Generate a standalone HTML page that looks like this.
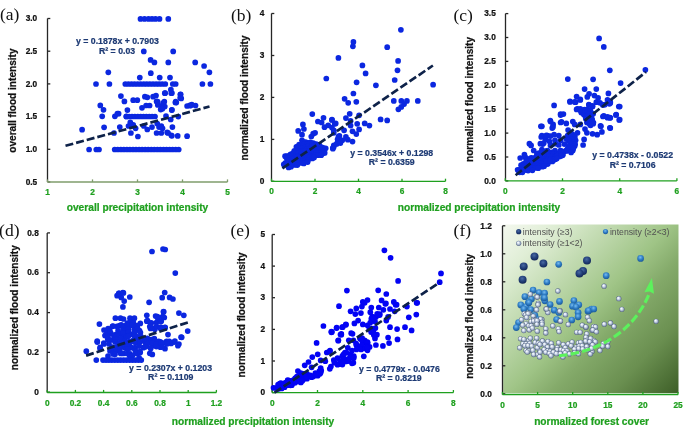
<!DOCTYPE html>
<html><head><meta charset="utf-8"><style>html,body{margin:0;padding:0;background:#fff;}svg{display:block;will-change:transform;filter:blur(0.3px);}</style></head>
<body><svg width="685" height="427" viewBox="0 0 685 427">
<rect width="685" height="427" fill="#fff"/>
<defs>
<linearGradient id="bg" gradientUnits="userSpaceOnUse" x1="503" y1="224.5" x2="678.5" y2="393.5">
<stop offset="0" stop-color="#f4f8ef"/><stop offset="0.15" stop-color="#e0eed6"/><stop offset="0.5" stop-color="#9fc486"/><stop offset="0.62" stop-color="#84aa6a"/><stop offset="0.8" stop-color="#6a8f50"/><stop offset="1" stop-color="#3d5e27"/>
</linearGradient>
<radialGradient id="gn" cx="0.45" cy="0.35" r="0.7"><stop offset="0" stop-color="#4a6aa2"/><stop offset="0.5" stop-color="#24417c"/><stop offset="1" stop-color="#0f2150"/></radialGradient>
<radialGradient id="gm" cx="0.45" cy="0.35" r="0.7"><stop offset="0" stop-color="#78bcf0"/><stop offset="0.5" stop-color="#2f7ec6"/><stop offset="1" stop-color="#185392"/></radialGradient>
<radialGradient id="gl" cx="0.5" cy="0.5" r="0.5" fx="0.36" fy="0.32"><stop offset="0" stop-color="#ffffff"/><stop offset="0.25" stop-color="#e9eff7"/><stop offset="0.6" stop-color="#b3c1d6"/><stop offset="0.85" stop-color="#7a8aa8"/><stop offset="1" stop-color="#56647f"/></radialGradient>
</defs>
<path d="M47.5 18.5V182" stroke="#262626" stroke-width="1.3" fill="none"/><path d="M47.5 18.5h2.8" stroke="#262626" stroke-width="1.3"/><path d="M47.5 51.2h2.8" stroke="#262626" stroke-width="1.3"/><path d="M47.5 83.9h2.8" stroke="#262626" stroke-width="1.3"/><path d="M47.5 116.6h2.8" stroke="#262626" stroke-width="1.3"/><path d="M47.5 149.3h2.8" stroke="#262626" stroke-width="1.3"/><path d="M47.5 182h2.8" stroke="#262626" stroke-width="1.3"/><path d="M47.5 182H227.5" stroke="#7f9c6b" stroke-width="1.3" fill="none"/><path d="M47.5 182v-2.6" stroke="#7f9c6b" stroke-width="1.3"/><path d="M92.5 182v-2.6" stroke="#7f9c6b" stroke-width="1.3"/><path d="M137.5 182v-2.6" stroke="#7f9c6b" stroke-width="1.3"/><path d="M182.5 182v-2.6" stroke="#7f9c6b" stroke-width="1.3"/><path d="M227.5 182v-2.6" stroke="#7f9c6b" stroke-width="1.3"/><text x="37.2" y="21.2" text-anchor="end" font-weight="bold" font-size="8.3" fill="#111" font-family="Liberation Sans, sans-serif" stroke="#111" stroke-width="0.22">3.0</text><text x="37.2" y="53.9" text-anchor="end" font-weight="bold" font-size="8.3" fill="#111" font-family="Liberation Sans, sans-serif" stroke="#111" stroke-width="0.22">2.5</text><text x="37.2" y="86.6" text-anchor="end" font-weight="bold" font-size="8.3" fill="#111" font-family="Liberation Sans, sans-serif" stroke="#111" stroke-width="0.22">2.0</text><text x="37.2" y="119.3" text-anchor="end" font-weight="bold" font-size="8.3" fill="#111" font-family="Liberation Sans, sans-serif" stroke="#111" stroke-width="0.22">1.5</text><text x="37.2" y="152" text-anchor="end" font-weight="bold" font-size="8.3" fill="#111" font-family="Liberation Sans, sans-serif" stroke="#111" stroke-width="0.22">1.0</text><text x="37.2" y="184.7" text-anchor="end" font-weight="bold" font-size="8.3" fill="#111" font-family="Liberation Sans, sans-serif" stroke="#111" stroke-width="0.22">0.5</text><text x="47.5" y="195.1" text-anchor="middle" font-weight="bold" font-size="8.3" fill="#1fa01f" font-family="Liberation Sans, sans-serif" stroke="#1fa01f" stroke-width="0.22">1</text><text x="92.5" y="195.1" text-anchor="middle" font-weight="bold" font-size="8.3" fill="#1fa01f" font-family="Liberation Sans, sans-serif" stroke="#1fa01f" stroke-width="0.22">2</text><text x="137.5" y="195.1" text-anchor="middle" font-weight="bold" font-size="8.3" fill="#1fa01f" font-family="Liberation Sans, sans-serif" stroke="#1fa01f" stroke-width="0.22">3</text><text x="182.5" y="195.1" text-anchor="middle" font-weight="bold" font-size="8.3" fill="#1fa01f" font-family="Liberation Sans, sans-serif" stroke="#1fa01f" stroke-width="0.22">4</text><text x="227.5" y="195.1" text-anchor="middle" font-weight="bold" font-size="8.3" fill="#1fa01f" font-family="Liberation Sans, sans-serif" stroke="#1fa01f" stroke-width="0.22">5</text><text transform="translate(15.9 100.6) rotate(-90)" text-anchor="middle" font-weight="bold" font-size="10.1" fill="#111" font-family="Liberation Sans, sans-serif" stroke="#111" stroke-width="0.22">overall flood intensity</text><text x="0" y="20.4" font-size="17.5" fill="#111" font-family="Liberation Serif, serif">(a)</text>
<g fill="#0b27e0"><circle cx="140.5" cy="18.9" r="2.85"/><circle cx="144.5" cy="18.9" r="2.85"/><circle cx="148.5" cy="18.9" r="2.85"/><circle cx="152" cy="18.9" r="2.85"/><circle cx="155.5" cy="18.9" r="2.85"/><circle cx="159.5" cy="18.9" r="2.85"/><circle cx="168.3" cy="18.9" r="2.85"/><circle cx="143.8" cy="51.4" r="2.85"/><circle cx="173.2" cy="51.4" r="2.85"/><circle cx="150.6" cy="59.9" r="2.85"/><circle cx="154.4" cy="62.4" r="2.85"/><circle cx="168.3" cy="62.4" r="2.85"/><circle cx="195.2" cy="62.4" r="2.85"/><circle cx="204.1" cy="66" r="2.85"/><circle cx="209.4" cy="72.3" r="2.85"/><circle cx="108.3" cy="72.3" r="2.85"/><circle cx="150.8" cy="73.2" r="2.85"/><circle cx="139.8" cy="77.6" r="2.85"/><circle cx="159.7" cy="77.6" r="2.85"/><circle cx="170" cy="77.6" r="2.85"/><circle cx="96" cy="84" r="2.85"/><circle cx="109.4" cy="84" r="2.85"/><circle cx="125.3" cy="84" r="2.85"/><circle cx="128.4" cy="84" r="2.85"/><circle cx="131.5" cy="84" r="2.85"/><circle cx="134.5" cy="84" r="2.85"/><circle cx="137.6" cy="84" r="2.85"/><circle cx="140.7" cy="84" r="2.85"/><circle cx="143.8" cy="84" r="2.85"/><circle cx="146.8" cy="84" r="2.85"/><circle cx="149.9" cy="84" r="2.85"/><circle cx="153" cy="84" r="2.85"/><circle cx="156.1" cy="84" r="2.85"/><circle cx="159.1" cy="84" r="2.85"/><circle cx="162.2" cy="84" r="2.85"/><circle cx="165.3" cy="84" r="2.85"/><circle cx="172.8" cy="84" r="2.85"/><circle cx="175.7" cy="84" r="2.85"/><circle cx="202.4" cy="84" r="2.85"/><circle cx="210.4" cy="84" r="2.85"/><circle cx="170.9" cy="89.7" r="2.85"/><circle cx="171.9" cy="93.1" r="2.85"/><circle cx="165.2" cy="93.1" r="2.85"/><circle cx="180.4" cy="94.7" r="2.85"/><circle cx="180.4" cy="97.9" r="2.85"/><circle cx="120.9" cy="96.1" r="2.85"/><circle cx="124.4" cy="101.4" r="2.85"/><circle cx="133.2" cy="100.2" r="2.85"/><circle cx="137.3" cy="100.2" r="2.85"/><circle cx="144.9" cy="96.7" r="2.85"/><circle cx="147.3" cy="97.3" r="2.85"/><circle cx="153.1" cy="96.7" r="2.85"/><circle cx="156" cy="95.5" r="2.85"/><circle cx="164.8" cy="93.2" r="2.85"/><circle cx="171.3" cy="93.2" r="2.85"/><circle cx="180.6" cy="94.3" r="2.85"/><circle cx="181.2" cy="98.4" r="2.85"/><circle cx="127.4" cy="110.1" r="2.85"/><circle cx="142" cy="107.8" r="2.85"/><circle cx="146.1" cy="105.5" r="2.85"/><circle cx="149.6" cy="105.5" r="2.85"/><circle cx="156.6" cy="101.4" r="2.85"/><circle cx="157.8" cy="104.9" r="2.85"/><circle cx="161.3" cy="106" r="2.85"/><circle cx="163.1" cy="103.1" r="2.85"/><circle cx="164.8" cy="106.6" r="2.85"/><circle cx="160.7" cy="109.6" r="2.85"/><circle cx="175.4" cy="102.5" r="2.85"/><circle cx="171.8" cy="110.1" r="2.85"/><circle cx="118.6" cy="113.7" r="2.85"/><circle cx="166" cy="116" r="2.85"/><circle cx="170.7" cy="119.5" r="2.85"/><circle cx="178.3" cy="116.6" r="2.85"/><circle cx="130.3" cy="122.4" r="2.85"/><circle cx="128.5" cy="126" r="2.85"/><circle cx="133.2" cy="124.8" r="2.85"/><circle cx="119.8" cy="127.1" r="2.85"/><circle cx="135.6" cy="128.3" r="2.85"/><circle cx="130.9" cy="133" r="2.85"/><circle cx="137.9" cy="136.5" r="2.85"/><circle cx="143.8" cy="126" r="2.85"/><circle cx="147.3" cy="129.5" r="2.85"/><circle cx="152" cy="127.1" r="2.85"/><circle cx="157.2" cy="123.6" r="2.85"/><circle cx="159" cy="127.1" r="2.85"/><circle cx="161.3" cy="126" r="2.85"/><circle cx="162.5" cy="128.3" r="2.85"/><circle cx="156.6" cy="133" r="2.85"/><circle cx="161.3" cy="133" r="2.85"/><circle cx="167.2" cy="132.4" r="2.85"/><circle cx="171.3" cy="135.3" r="2.85"/><circle cx="172.4" cy="127.1" r="2.85"/><circle cx="177.7" cy="135.9" r="2.85"/><circle cx="187.1" cy="136.2" r="2.85"/><circle cx="187.1" cy="106" r="2.85"/><circle cx="157.6" cy="101.7" r="2.85"/><circle cx="164.3" cy="101.7" r="2.85"/><circle cx="175.7" cy="101.7" r="2.85"/><circle cx="191.8" cy="104.5" r="2.85"/><circle cx="190.6" cy="105.6" r="2.85"/><circle cx="195.5" cy="105.6" r="2.85"/><circle cx="176.3" cy="102.6" r="2.85"/><circle cx="100.3" cy="105.4" r="2.85"/><circle cx="103.5" cy="109.8" r="2.85"/><circle cx="102.2" cy="116.3" r="2.85"/><circle cx="104.1" cy="127.3" r="2.85"/><circle cx="114.9" cy="116.3" r="2.85"/><circle cx="117.4" cy="113.6" r="2.85"/><circle cx="114" cy="133" r="2.85"/><circle cx="162.4" cy="108.7" r="2.85"/><circle cx="171.9" cy="109.8" r="2.85"/><circle cx="180.4" cy="97.8" r="2.85"/><circle cx="189.9" cy="105.4" r="2.85"/><circle cx="82.1" cy="129.7" r="2.85"/><circle cx="126.4" cy="116.4" r="2.85"/><circle cx="168.1" cy="133" r="2.85"/><circle cx="171.9" cy="135.8" r="2.85"/><circle cx="126.3" cy="116.5" r="2.85"/><circle cx="129.2" cy="116.5" r="2.85"/><circle cx="132" cy="116.5" r="2.85"/><circle cx="134.9" cy="116.5" r="2.85"/><circle cx="137.8" cy="116.5" r="2.85"/><circle cx="140.7" cy="116.5" r="2.85"/><circle cx="143.5" cy="116.5" r="2.85"/><circle cx="146.4" cy="116.5" r="2.85"/><circle cx="149.3" cy="116.5" r="2.85"/><circle cx="152.1" cy="116.5" r="2.85"/><circle cx="155" cy="116.5" r="2.85"/><circle cx="89.1" cy="149.5" r="2.85"/><circle cx="96.3" cy="149.5" r="2.85"/><circle cx="99" cy="149.5" r="2.85"/><circle cx="114.7" cy="149.5" r="2.85"/><circle cx="117.7" cy="149.5" r="2.85"/><circle cx="120.8" cy="149.5" r="2.85"/><circle cx="123.8" cy="149.5" r="2.85"/><circle cx="126.9" cy="149.5" r="2.85"/><circle cx="129.9" cy="149.5" r="2.85"/><circle cx="133" cy="149.5" r="2.85"/><circle cx="136" cy="149.5" r="2.85"/><circle cx="139.1" cy="149.5" r="2.85"/><circle cx="142.1" cy="149.5" r="2.85"/><circle cx="145.2" cy="149.5" r="2.85"/><circle cx="148.2" cy="149.5" r="2.85"/><circle cx="151.3" cy="149.5" r="2.85"/><circle cx="154.3" cy="149.5" r="2.85"/><circle cx="157.4" cy="149.5" r="2.85"/><circle cx="160.4" cy="149.5" r="2.85"/><circle cx="163.5" cy="149.5" r="2.85"/><circle cx="166.5" cy="149.5" r="2.85"/><circle cx="169.6" cy="149.5" r="2.85"/><circle cx="172.6" cy="149.5" r="2.85"/><circle cx="175.7" cy="149.5" r="2.85"/><circle cx="178.7" cy="149.5" r="2.85"/></g>
<path d="M65.5 145.8L209.5 106.5" stroke="#0e2249" stroke-width="2.7" stroke-dasharray="8 3" fill="none"/>
<text x="76" y="44.2" font-weight="bold" font-size="8.72" fill="#1d3a74" font-family="Liberation Sans, sans-serif" stroke="#1d3a74" stroke-width="0.22">y = 0.1878x + 0.7903</text><text x="99" y="54.2" font-weight="bold" font-size="8.72" fill="#1d3a74" font-family="Liberation Sans, sans-serif" stroke="#1d3a74" stroke-width="0.22">R² = 0.03</text>
<text x="137.5" y="211" text-anchor="middle" font-weight="bold" font-size="10.2" fill="#1fa01f" font-family="Liberation Sans, sans-serif" stroke="#1fa01f" stroke-width="0.22">overall precipitation intensity</text>
<path d="M271.5 13.5V181.3" stroke="#262626" stroke-width="1.3" fill="none"/><path d="M271.5 13.5h2.8" stroke="#262626" stroke-width="1.3"/><path d="M271.5 55.5h2.8" stroke="#262626" stroke-width="1.3"/><path d="M271.5 97.4h2.8" stroke="#262626" stroke-width="1.3"/><path d="M271.5 139.4h2.8" stroke="#262626" stroke-width="1.3"/><path d="M271.5 181.3h2.8" stroke="#262626" stroke-width="1.3"/><path d="M271.5 181.3H445.5" stroke="#1fa01f" stroke-width="1.3" fill="none"/><path d="M271.5 181.3v-2.6" stroke="#1fa01f" stroke-width="1.3"/><path d="M315 181.3v-2.6" stroke="#1fa01f" stroke-width="1.3"/><path d="M358.5 181.3v-2.6" stroke="#1fa01f" stroke-width="1.3"/><path d="M402 181.3v-2.6" stroke="#1fa01f" stroke-width="1.3"/><path d="M445.5 181.3v-2.6" stroke="#1fa01f" stroke-width="1.3"/><text x="264.3" y="16.2" text-anchor="end" font-weight="bold" font-size="8.3" fill="#111" font-family="Liberation Sans, sans-serif" stroke="#111" stroke-width="0.22">4</text><text x="264.3" y="58.2" text-anchor="end" font-weight="bold" font-size="8.3" fill="#111" font-family="Liberation Sans, sans-serif" stroke="#111" stroke-width="0.22">3</text><text x="264.3" y="100.1" text-anchor="end" font-weight="bold" font-size="8.3" fill="#111" font-family="Liberation Sans, sans-serif" stroke="#111" stroke-width="0.22">2</text><text x="264.3" y="142.1" text-anchor="end" font-weight="bold" font-size="8.3" fill="#111" font-family="Liberation Sans, sans-serif" stroke="#111" stroke-width="0.22">1</text><text x="264.3" y="184" text-anchor="end" font-weight="bold" font-size="8.3" fill="#111" font-family="Liberation Sans, sans-serif" stroke="#111" stroke-width="0.22">0</text><text x="271.5" y="194.4" text-anchor="middle" font-weight="bold" font-size="8.3" fill="#1fa01f" font-family="Liberation Sans, sans-serif" stroke="#1fa01f" stroke-width="0.22">0</text><text x="315" y="194.4" text-anchor="middle" font-weight="bold" font-size="8.3" fill="#1fa01f" font-family="Liberation Sans, sans-serif" stroke="#1fa01f" stroke-width="0.22">2</text><text x="358.5" y="194.4" text-anchor="middle" font-weight="bold" font-size="8.3" fill="#1fa01f" font-family="Liberation Sans, sans-serif" stroke="#1fa01f" stroke-width="0.22">4</text><text x="402" y="194.4" text-anchor="middle" font-weight="bold" font-size="8.3" fill="#1fa01f" font-family="Liberation Sans, sans-serif" stroke="#1fa01f" stroke-width="0.22">6</text><text x="445.5" y="194.4" text-anchor="middle" font-weight="bold" font-size="8.3" fill="#1fa01f" font-family="Liberation Sans, sans-serif" stroke="#1fa01f" stroke-width="0.22">8</text><text transform="translate(248.2 98) rotate(-90)" text-anchor="middle" font-weight="bold" font-size="10.1" fill="#111" font-family="Liberation Sans, sans-serif" stroke="#111" stroke-width="0.22">normalized flood intensity</text><text x="231" y="21.2" font-size="17.5" fill="#111" font-family="Liberation Serif, serif">(b)</text>
<g fill="#0b27e0"><circle cx="400.9" cy="29.8" r="2.85"/><circle cx="353.4" cy="41.9" r="2.85"/><circle cx="352.9" cy="46.3" r="2.85"/><circle cx="387.2" cy="47.2" r="2.85"/><circle cx="338.4" cy="57.9" r="2.85"/><circle cx="398.1" cy="60.9" r="2.85"/><circle cx="362.4" cy="65.4" r="2.85"/><circle cx="397.5" cy="70.3" r="2.85"/><circle cx="365.6" cy="73.4" r="2.85"/><circle cx="394.7" cy="80" r="2.85"/><circle cx="356.6" cy="82.3" r="2.85"/><circle cx="375.9" cy="85.3" r="2.85"/><circle cx="433.1" cy="84.7" r="2.85"/><circle cx="353.4" cy="93.5" r="2.85"/><circle cx="344.6" cy="98.8" r="2.85"/><circle cx="348.2" cy="102.8" r="2.85"/><circle cx="356.3" cy="101.8" r="2.85"/><circle cx="393.8" cy="100.9" r="2.85"/><circle cx="401.3" cy="100.9" r="2.85"/><circle cx="406.9" cy="100.9" r="2.85"/><circle cx="404.1" cy="104.1" r="2.85"/><circle cx="401.3" cy="106.9" r="2.85"/><circle cx="398.4" cy="109.3" r="2.85"/><circle cx="417.8" cy="100.9" r="2.85"/><circle cx="349.7" cy="113.8" r="2.85"/><circle cx="359.1" cy="115.3" r="2.85"/><circle cx="380.6" cy="119.4" r="2.85"/><circle cx="387.2" cy="120.4" r="2.85"/><circle cx="331.9" cy="120" r="2.85"/><circle cx="334.7" cy="123.8" r="2.85"/><circle cx="345.9" cy="118.1" r="2.85"/><circle cx="350.6" cy="120.9" r="2.85"/><circle cx="350.6" cy="125.6" r="2.85"/><circle cx="357.2" cy="123.8" r="2.85"/><circle cx="364.7" cy="123.4" r="2.85"/><circle cx="369.4" cy="125.6" r="2.85"/><circle cx="359.1" cy="129.4" r="2.85"/><circle cx="344.1" cy="130.3" r="2.85"/><circle cx="352.5" cy="131.3" r="2.85"/><circle cx="356.3" cy="134.1" r="2.85"/><circle cx="331.9" cy="127.5" r="2.85"/><circle cx="333.8" cy="130.3" r="2.85"/><circle cx="339.4" cy="135.9" r="2.85"/><circle cx="345.9" cy="136.9" r="2.85"/><circle cx="347.8" cy="139.7" r="2.85"/><circle cx="352.5" cy="141.6" r="2.85"/><circle cx="337.5" cy="142.5" r="2.85"/><circle cx="333.8" cy="145.3" r="2.85"/><circle cx="332.8" cy="148.1" r="2.85"/><circle cx="312.3" cy="114.1" r="2.85"/><circle cx="317.9" cy="121.5" r="2.85"/><circle cx="321.6" cy="122.5" r="2.85"/><circle cx="323.5" cy="117.8" r="2.85"/><circle cx="332" cy="119.7" r="2.85"/><circle cx="335.7" cy="123.4" r="2.85"/><circle cx="324.5" cy="127.2" r="2.85"/><circle cx="328.2" cy="125.3" r="2.85"/><circle cx="302.9" cy="124.4" r="2.85"/><circle cx="303.9" cy="129" r="2.85"/><circle cx="298.2" cy="130.9" r="2.85"/><circle cx="302" cy="134.7" r="2.85"/><circle cx="313.2" cy="133.7" r="2.85"/><circle cx="315.1" cy="132.8" r="2.85"/><circle cx="311.3" cy="136.5" r="2.85"/><circle cx="333.8" cy="132.8" r="2.85"/><circle cx="338.5" cy="136.5" r="2.85"/><circle cx="337.6" cy="139.3" r="2.85"/><circle cx="342.3" cy="140.3" r="2.85"/><circle cx="302" cy="140.3" r="2.85"/><circle cx="305.7" cy="142.2" r="2.85"/><circle cx="333.8" cy="146.8" r="2.85"/><circle cx="336.6" cy="144" r="2.85"/><circle cx="340.4" cy="143.1" r="2.85"/><circle cx="332.9" cy="148.7" r="2.85"/><circle cx="285.1" cy="156.2" r="2.85"/><circle cx="296.4" cy="146.8" r="2.85"/><circle cx="300.1" cy="145.9" r="2.85"/><circle cx="326.3" cy="78.5" r="2.85"/><circle cx="303.4" cy="142.3" r="2.85"/><circle cx="304.9" cy="142.5" r="2.85"/><circle cx="308.5" cy="142.8" r="2.85"/><circle cx="310.5" cy="142.3" r="2.85"/><circle cx="313.3" cy="143" r="2.85"/><circle cx="299.1" cy="144.6" r="2.85"/><circle cx="300.8" cy="145.4" r="2.85"/><circle cx="304.3" cy="144.2" r="2.85"/><circle cx="306.8" cy="144.7" r="2.85"/><circle cx="309.1" cy="144.4" r="2.85"/><circle cx="312.1" cy="144.9" r="2.85"/><circle cx="314.8" cy="144.6" r="2.85"/><circle cx="316.3" cy="144.2" r="2.85"/><circle cx="319.2" cy="144.9" r="2.85"/><circle cx="297.4" cy="146.9" r="2.85"/><circle cx="299.4" cy="146.7" r="2.85"/><circle cx="302.8" cy="146.4" r="2.85"/><circle cx="304.8" cy="147.7" r="2.85"/><circle cx="308.1" cy="146.4" r="2.85"/><circle cx="310.9" cy="147.5" r="2.85"/><circle cx="312.4" cy="146.1" r="2.85"/><circle cx="315.3" cy="147.4" r="2.85"/><circle cx="317.9" cy="147.3" r="2.85"/><circle cx="321.4" cy="147" r="2.85"/><circle cx="323.2" cy="147.8" r="2.85"/><circle cx="297.1" cy="148.4" r="2.85"/><circle cx="299.6" cy="150" r="2.85"/><circle cx="301.7" cy="148.6" r="2.85"/><circle cx="304.9" cy="150.1" r="2.85"/><circle cx="307.2" cy="149.2" r="2.85"/><circle cx="309.2" cy="148.9" r="2.85"/><circle cx="311.5" cy="149.5" r="2.85"/><circle cx="314.5" cy="148.6" r="2.85"/><circle cx="316.5" cy="149.5" r="2.85"/><circle cx="319.4" cy="149.2" r="2.85"/><circle cx="322.1" cy="149.9" r="2.85"/><circle cx="325.7" cy="148.3" r="2.85"/><circle cx="294.3" cy="150.9" r="2.85"/><circle cx="298.4" cy="150.9" r="2.85"/><circle cx="300.8" cy="151.6" r="2.85"/><circle cx="303.5" cy="151.2" r="2.85"/><circle cx="305.2" cy="151.1" r="2.85"/><circle cx="308.8" cy="151.6" r="2.85"/><circle cx="311.5" cy="152.2" r="2.85"/><circle cx="312.6" cy="151.6" r="2.85"/><circle cx="315.2" cy="150.6" r="2.85"/><circle cx="317.7" cy="152.1" r="2.85"/><circle cx="321.6" cy="152.1" r="2.85"/><circle cx="323.4" cy="151.7" r="2.85"/><circle cx="290.5" cy="154.4" r="2.85"/><circle cx="293" cy="153.2" r="2.85"/><circle cx="297.3" cy="153.6" r="2.85"/><circle cx="298.3" cy="153.1" r="2.85"/><circle cx="301.1" cy="154.2" r="2.85"/><circle cx="303.5" cy="154.5" r="2.85"/><circle cx="306.6" cy="154.6" r="2.85"/><circle cx="310.1" cy="153.3" r="2.85"/><circle cx="311.6" cy="153.7" r="2.85"/><circle cx="313.9" cy="154" r="2.85"/><circle cx="316.4" cy="152.8" r="2.85"/><circle cx="320.7" cy="153.3" r="2.85"/><circle cx="322.6" cy="153.6" r="2.85"/><circle cx="324.7" cy="152.9" r="2.85"/><circle cx="286.9" cy="156" r="2.85"/><circle cx="289.5" cy="155.5" r="2.85"/><circle cx="291.7" cy="155.6" r="2.85"/><circle cx="296" cy="155.9" r="2.85"/><circle cx="298" cy="156.2" r="2.85"/><circle cx="301.1" cy="155.8" r="2.85"/><circle cx="302.5" cy="155.6" r="2.85"/><circle cx="305.2" cy="156.6" r="2.85"/><circle cx="308.8" cy="155.6" r="2.85"/><circle cx="310.4" cy="156" r="2.85"/><circle cx="313.4" cy="156.1" r="2.85"/><circle cx="315.4" cy="155.1" r="2.85"/><circle cx="318" cy="155.2" r="2.85"/><circle cx="321.2" cy="155.2" r="2.85"/><circle cx="286.6" cy="157.9" r="2.85"/><circle cx="287.9" cy="158.2" r="2.85"/><circle cx="292" cy="157.8" r="2.85"/><circle cx="294.5" cy="157.6" r="2.85"/><circle cx="297.1" cy="157.4" r="2.85"/><circle cx="298.7" cy="158.9" r="2.85"/><circle cx="302.2" cy="159" r="2.85"/><circle cx="304.8" cy="158.7" r="2.85"/><circle cx="307.1" cy="157.6" r="2.85"/><circle cx="309.3" cy="157.6" r="2.85"/><circle cx="312.4" cy="158.5" r="2.85"/><circle cx="314.1" cy="157.4" r="2.85"/><circle cx="287.9" cy="160.3" r="2.85"/><circle cx="289.7" cy="160.7" r="2.85"/><circle cx="292" cy="159.6" r="2.85"/><circle cx="295.2" cy="160.5" r="2.85"/><circle cx="298" cy="160.4" r="2.85"/><circle cx="300.6" cy="160.9" r="2.85"/><circle cx="302.4" cy="160.5" r="2.85"/><circle cx="305.5" cy="160" r="2.85"/><circle cx="307.9" cy="160.6" r="2.85"/><circle cx="285.5" cy="162.8" r="2.85"/><circle cx="289.1" cy="161.9" r="2.85"/><circle cx="291.5" cy="163.1" r="2.85"/><circle cx="293.5" cy="162.7" r="2.85"/><circle cx="295.8" cy="163.1" r="2.85"/><circle cx="298.2" cy="163.6" r="2.85"/><circle cx="302.2" cy="162.9" r="2.85"/><circle cx="303.8" cy="163.5" r="2.85"/><circle cx="307.6" cy="162.1" r="2.85"/><circle cx="283.8" cy="164.4" r="2.85"/><circle cx="287.2" cy="164.1" r="2.85"/><circle cx="290.1" cy="165.2" r="2.85"/><circle cx="293.1" cy="164.4" r="2.85"/><circle cx="294.7" cy="165" r="2.85"/><circle cx="297.3" cy="165.1" r="2.85"/><circle cx="288.6" cy="167.5" r="2.85"/><circle cx="291" cy="166.7" r="2.85"/></g>
<path d="M282.4 168.4L432.9 65.5" stroke="#0e2249" stroke-width="2.7" stroke-dasharray="8 3" fill="none"/>
<text x="350.3" y="155.7" font-weight="bold" font-size="8.72" fill="#1d3a74" font-family="Liberation Sans, sans-serif" stroke="#1d3a74" stroke-width="0.22">y = 0.3546x + 0.1298</text><text x="368.8" y="165.1" font-weight="bold" font-size="8.72" fill="#1d3a74" font-family="Liberation Sans, sans-serif" stroke="#1d3a74" stroke-width="0.22">R² = 0.6359</text>
<text x="479" y="210.6" text-anchor="middle" font-weight="bold" font-size="10.2" fill="#1fa01f" font-family="Liberation Sans, sans-serif" stroke="#1fa01f" stroke-width="0.22">normalized precipitation intensity</text>
<path d="M505.5 13.6V180.9" stroke="#262626" stroke-width="1.3" fill="none"/><path d="M505.5 13.6h2.8" stroke="#262626" stroke-width="1.3"/><path d="M505.5 37.5h2.8" stroke="#262626" stroke-width="1.3"/><path d="M505.5 61.4h2.8" stroke="#262626" stroke-width="1.3"/><path d="M505.5 85.3h2.8" stroke="#262626" stroke-width="1.3"/><path d="M505.5 109.2h2.8" stroke="#262626" stroke-width="1.3"/><path d="M505.5 133.1h2.8" stroke="#262626" stroke-width="1.3"/><path d="M505.5 157h2.8" stroke="#262626" stroke-width="1.3"/><path d="M505.5 180.9h2.8" stroke="#262626" stroke-width="1.3"/><path d="M505.3 180.9H676.8" stroke="#1fa01f" stroke-width="1.3" fill="none"/><path d="M505.3 180.9v-2.6" stroke="#1fa01f" stroke-width="1.3"/><path d="M562.5 180.9v-2.6" stroke="#1fa01f" stroke-width="1.3"/><path d="M619.7 180.9v-2.6" stroke="#1fa01f" stroke-width="1.3"/><path d="M676.9 180.9v-2.6" stroke="#1fa01f" stroke-width="1.3"/><text x="495.8" y="16.3" text-anchor="end" font-weight="bold" font-size="8.3" fill="#111" font-family="Liberation Sans, sans-serif" stroke="#111" stroke-width="0.22">3.5</text><text x="495.8" y="40.2" text-anchor="end" font-weight="bold" font-size="8.3" fill="#111" font-family="Liberation Sans, sans-serif" stroke="#111" stroke-width="0.22">3.0</text><text x="495.8" y="64.1" text-anchor="end" font-weight="bold" font-size="8.3" fill="#111" font-family="Liberation Sans, sans-serif" stroke="#111" stroke-width="0.22">2.5</text><text x="495.8" y="88" text-anchor="end" font-weight="bold" font-size="8.3" fill="#111" font-family="Liberation Sans, sans-serif" stroke="#111" stroke-width="0.22">2.0</text><text x="495.8" y="111.9" text-anchor="end" font-weight="bold" font-size="8.3" fill="#111" font-family="Liberation Sans, sans-serif" stroke="#111" stroke-width="0.22">1.5</text><text x="495.8" y="135.8" text-anchor="end" font-weight="bold" font-size="8.3" fill="#111" font-family="Liberation Sans, sans-serif" stroke="#111" stroke-width="0.22">1.0</text><text x="495.8" y="159.7" text-anchor="end" font-weight="bold" font-size="8.3" fill="#111" font-family="Liberation Sans, sans-serif" stroke="#111" stroke-width="0.22">0.5</text><text x="495.8" y="183.6" text-anchor="end" font-weight="bold" font-size="8.3" fill="#111" font-family="Liberation Sans, sans-serif" stroke="#111" stroke-width="0.22">0.0</text><text x="505.3" y="194" text-anchor="middle" font-weight="bold" font-size="8.3" fill="#1fa01f" font-family="Liberation Sans, sans-serif" stroke="#1fa01f" stroke-width="0.22">0</text><text x="562.5" y="194" text-anchor="middle" font-weight="bold" font-size="8.3" fill="#1fa01f" font-family="Liberation Sans, sans-serif" stroke="#1fa01f" stroke-width="0.22">2</text><text x="619.7" y="194" text-anchor="middle" font-weight="bold" font-size="8.3" fill="#1fa01f" font-family="Liberation Sans, sans-serif" stroke="#1fa01f" stroke-width="0.22">4</text><text x="676.9" y="194" text-anchor="middle" font-weight="bold" font-size="8.3" fill="#1fa01f" font-family="Liberation Sans, sans-serif" stroke="#1fa01f" stroke-width="0.22">6</text><text transform="translate(472.8 99.5) rotate(-90)" text-anchor="middle" font-weight="bold" font-size="10.1" fill="#111" font-family="Liberation Sans, sans-serif" stroke="#111" stroke-width="0.22">normalized flood intensity</text><text x="453.5" y="20.6" font-size="17.5" fill="#111" font-family="Liberation Serif, serif">(c)</text>
<g fill="#0b27e0"><circle cx="599.1" cy="38.4" r="2.85"/><circle cx="603.8" cy="46.9" r="2.85"/><circle cx="609.8" cy="70.3" r="2.85"/><circle cx="645.4" cy="69.8" r="2.85"/><circle cx="567.8" cy="79.1" r="2.85"/><circle cx="593.1" cy="79.3" r="2.85"/><circle cx="620.6" cy="83.1" r="2.85"/><circle cx="584.6" cy="89.1" r="2.85"/><circle cx="596.3" cy="89.1" r="2.85"/><circle cx="608.4" cy="93.4" r="2.85"/><circle cx="589.1" cy="93.8" r="2.85"/><circle cx="587.3" cy="96.9" r="2.85"/><circle cx="594.4" cy="95.6" r="2.85"/><circle cx="598.1" cy="97.9" r="2.85"/><circle cx="596.3" cy="102.2" r="2.85"/><circle cx="576.6" cy="96.6" r="2.85"/><circle cx="580.3" cy="99.4" r="2.85"/><circle cx="570" cy="101.3" r="2.85"/><circle cx="575.6" cy="102.2" r="2.85"/><circle cx="607.5" cy="99.8" r="2.85"/><circle cx="610.3" cy="103.1" r="2.85"/><circle cx="554.1" cy="105.4" r="2.85"/><circle cx="589.1" cy="105" r="2.85"/><circle cx="592.5" cy="105.9" r="2.85"/><circle cx="618.8" cy="106.5" r="2.85"/><circle cx="577.5" cy="108.8" r="2.85"/><circle cx="580.3" cy="108.8" r="2.85"/><circle cx="602.8" cy="105" r="2.85"/><circle cx="602.9" cy="116.5" r="2.85"/><circle cx="607.5" cy="117.7" r="2.85"/><circle cx="609.9" cy="117.7" r="2.85"/><circle cx="616.2" cy="114.7" r="2.85"/><circle cx="619.2" cy="120" r="2.85"/><circle cx="600.5" cy="125.9" r="2.85"/><circle cx="609.9" cy="127.8" r="2.85"/><circle cx="570" cy="101.9" r="2.85"/><circle cx="574.7" cy="101.9" r="2.85"/><circle cx="580.3" cy="100" r="2.85"/><circle cx="588.8" cy="104.7" r="2.85"/><circle cx="592.5" cy="106.6" r="2.85"/><circle cx="600" cy="102.8" r="2.85"/><circle cx="604.7" cy="104.7" r="2.85"/><circle cx="610.3" cy="101.9" r="2.85"/><circle cx="609.4" cy="103.8" r="2.85"/><circle cx="619.7" cy="106.6" r="2.85"/><circle cx="576.6" cy="109.4" r="2.85"/><circle cx="580.3" cy="110.3" r="2.85"/><circle cx="583.1" cy="113.1" r="2.85"/><circle cx="585.9" cy="115.9" r="2.85"/><circle cx="588.8" cy="111.3" r="2.85"/><circle cx="591.6" cy="114.1" r="2.85"/><circle cx="560.6" cy="114.1" r="2.85"/><circle cx="563.4" cy="114.1" r="2.85"/><circle cx="603.8" cy="115.9" r="2.85"/><circle cx="607.5" cy="116.9" r="2.85"/><circle cx="610.3" cy="117.8" r="2.85"/><circle cx="615.9" cy="115" r="2.85"/><circle cx="619.7" cy="119.7" r="2.85"/><circle cx="550.3" cy="120.6" r="2.85"/><circle cx="553.1" cy="124.4" r="2.85"/><circle cx="552.2" cy="128.1" r="2.85"/><circle cx="560.6" cy="122.5" r="2.85"/><circle cx="566.3" cy="123.4" r="2.85"/><circle cx="572.8" cy="121.6" r="2.85"/><circle cx="574.7" cy="124.4" r="2.85"/><circle cx="541.9" cy="126.3" r="2.85"/><circle cx="580.3" cy="124.4" r="2.85"/><circle cx="586.9" cy="122.5" r="2.85"/><circle cx="590.6" cy="125.3" r="2.85"/><circle cx="593.4" cy="122.5" r="2.85"/><circle cx="600.9" cy="126.3" r="2.85"/><circle cx="610.3" cy="128.1" r="2.85"/><circle cx="568.1" cy="130" r="2.85"/><circle cx="570.9" cy="132.8" r="2.85"/><circle cx="577.5" cy="132.8" r="2.85"/><circle cx="585" cy="129.1" r="2.85"/><circle cx="586.9" cy="132.8" r="2.85"/><circle cx="592.5" cy="133.8" r="2.85"/><circle cx="597.2" cy="134.7" r="2.85"/><circle cx="601.9" cy="131.9" r="2.85"/><circle cx="541.9" cy="135.6" r="2.85"/><circle cx="547.5" cy="135.6" r="2.85"/><circle cx="554.1" cy="134.7" r="2.85"/><circle cx="558.8" cy="135.6" r="2.85"/><circle cx="545.6" cy="139.4" r="2.85"/><circle cx="549.4" cy="141.3" r="2.85"/><circle cx="555" cy="140.3" r="2.85"/><circle cx="560.6" cy="140.3" r="2.85"/><circle cx="566.3" cy="138.4" r="2.85"/><circle cx="571.9" cy="139.4" r="2.85"/><circle cx="575.6" cy="140.3" r="2.85"/><circle cx="584.1" cy="139.4" r="2.85"/><circle cx="583.1" cy="145" r="2.85"/><circle cx="542.8" cy="144.1" r="2.85"/><circle cx="551.3" cy="145" r="2.85"/><circle cx="558.8" cy="145" r="2.85"/><circle cx="564.4" cy="144.1" r="2.85"/><circle cx="570" cy="145" r="2.85"/><circle cx="574.7" cy="145.9" r="2.85"/><circle cx="541.9" cy="149.7" r="2.85"/><circle cx="547.5" cy="150.6" r="2.85"/><circle cx="555" cy="150.6" r="2.85"/><circle cx="560.6" cy="150.6" r="2.85"/><circle cx="568.1" cy="149.7" r="2.85"/><circle cx="572.8" cy="150.6" r="2.85"/><circle cx="543.8" cy="156.3" r="2.85"/><circle cx="549.4" cy="158.1" r="2.85"/><circle cx="555.9" cy="156.3" r="2.85"/><circle cx="562.5" cy="155.3" r="2.85"/><circle cx="541.9" cy="161.9" r="2.85"/><circle cx="547.5" cy="163.8" r="2.85"/><circle cx="550.5" cy="121.5" r="2.85"/><circle cx="553" cy="126.9" r="2.85"/><circle cx="540.9" cy="126.3" r="2.85"/><circle cx="560.6" cy="115.1" r="2.85"/><circle cx="561.5" cy="121.8" r="2.85"/><circle cx="541.2" cy="137" r="2.85"/><circle cx="546.3" cy="135.3" r="2.85"/><circle cx="550.5" cy="136.1" r="2.85"/><circle cx="529.4" cy="143.7" r="2.85"/><circle cx="531.1" cy="145.4" r="2.85"/><circle cx="540.4" cy="143.7" r="2.85"/><circle cx="543.8" cy="142.9" r="2.85"/><circle cx="550.5" cy="145.4" r="2.85"/><circle cx="555.6" cy="143.7" r="2.85"/><circle cx="533.7" cy="150.5" r="2.85"/><circle cx="537" cy="153.8" r="2.85"/><circle cx="524.4" cy="154.7" r="2.85"/><circle cx="525.2" cy="157.2" r="2.85"/><circle cx="520.2" cy="158" r="2.85"/><circle cx="517.6" cy="169.8" r="2.85"/><circle cx="546" cy="151" r="2.85"/><circle cx="538.9" cy="153.2" r="2.85"/><circle cx="541.3" cy="152.5" r="2.85"/><circle cx="545.2" cy="152" r="2.85"/><circle cx="546.7" cy="153.2" r="2.85"/><circle cx="549.7" cy="152.9" r="2.85"/><circle cx="551.5" cy="152.3" r="2.85"/><circle cx="554.4" cy="152.8" r="2.85"/><circle cx="556.8" cy="153.3" r="2.85"/><circle cx="537.2" cy="154.7" r="2.85"/><circle cx="541.2" cy="155.2" r="2.85"/><circle cx="544" cy="155.2" r="2.85"/><circle cx="546.6" cy="155.1" r="2.85"/><circle cx="548.5" cy="154.3" r="2.85"/><circle cx="551.4" cy="154.4" r="2.85"/><circle cx="553" cy="154.7" r="2.85"/><circle cx="557" cy="154.1" r="2.85"/><circle cx="559.1" cy="154.6" r="2.85"/><circle cx="531.6" cy="157.9" r="2.85"/><circle cx="535" cy="157.9" r="2.85"/><circle cx="536.3" cy="156.9" r="2.85"/><circle cx="538.9" cy="157.2" r="2.85"/><circle cx="542.2" cy="157.6" r="2.85"/><circle cx="545" cy="156.6" r="2.85"/><circle cx="547.1" cy="157.1" r="2.85"/><circle cx="548.9" cy="156.2" r="2.85"/><circle cx="552.2" cy="156.3" r="2.85"/><circle cx="555.4" cy="156.5" r="2.85"/><circle cx="556.9" cy="156.4" r="2.85"/><circle cx="559.7" cy="156.5" r="2.85"/><circle cx="527.6" cy="159.3" r="2.85"/><circle cx="530.4" cy="158.4" r="2.85"/><circle cx="532.8" cy="159.3" r="2.85"/><circle cx="534.9" cy="158.5" r="2.85"/><circle cx="538.7" cy="159" r="2.85"/><circle cx="540.7" cy="160" r="2.85"/><circle cx="543.5" cy="158.9" r="2.85"/><circle cx="546.8" cy="159" r="2.85"/><circle cx="547.6" cy="159.6" r="2.85"/><circle cx="550.4" cy="158.9" r="2.85"/><circle cx="554.3" cy="159.6" r="2.85"/><circle cx="555.4" cy="159.2" r="2.85"/><circle cx="526.2" cy="161.4" r="2.85"/><circle cx="529.5" cy="161.3" r="2.85"/><circle cx="530.9" cy="160.8" r="2.85"/><circle cx="533.4" cy="162.1" r="2.85"/><circle cx="537.1" cy="162.3" r="2.85"/><circle cx="539.8" cy="160.6" r="2.85"/><circle cx="542.3" cy="162" r="2.85"/><circle cx="545" cy="161.5" r="2.85"/><circle cx="546.9" cy="161.4" r="2.85"/><circle cx="550.3" cy="161.1" r="2.85"/><circle cx="552.4" cy="161.5" r="2.85"/><circle cx="523.3" cy="163.9" r="2.85"/><circle cx="525.7" cy="163" r="2.85"/><circle cx="527.4" cy="164.7" r="2.85"/><circle cx="529.7" cy="163.6" r="2.85"/><circle cx="532.1" cy="163" r="2.85"/><circle cx="536.2" cy="164.7" r="2.85"/><circle cx="538.4" cy="163.1" r="2.85"/><circle cx="540.3" cy="163.3" r="2.85"/><circle cx="543.6" cy="164.1" r="2.85"/><circle cx="545.8" cy="163.8" r="2.85"/><circle cx="547.8" cy="163.8" r="2.85"/><circle cx="521.1" cy="165.2" r="2.85"/><circle cx="524" cy="166.7" r="2.85"/><circle cx="525.8" cy="166" r="2.85"/><circle cx="529" cy="165.8" r="2.85"/><circle cx="532" cy="166.8" r="2.85"/><circle cx="534.6" cy="166" r="2.85"/><circle cx="537.6" cy="165.7" r="2.85"/><circle cx="539.8" cy="166.3" r="2.85"/><circle cx="542.5" cy="166.7" r="2.85"/><circle cx="544.1" cy="166.2" r="2.85"/><circle cx="520.6" cy="169" r="2.85"/><circle cx="521.8" cy="168.8" r="2.85"/><circle cx="525.6" cy="167.7" r="2.85"/><circle cx="528.1" cy="168.4" r="2.85"/><circle cx="529.7" cy="168.8" r="2.85"/><circle cx="532.2" cy="168.5" r="2.85"/><circle cx="535.4" cy="167.8" r="2.85"/><circle cx="538.2" cy="168.2" r="2.85"/><circle cx="518.9" cy="171" r="2.85"/><circle cx="521.9" cy="169.9" r="2.85"/><circle cx="523.2" cy="170.3" r="2.85"/><circle cx="526.3" cy="170.1" r="2.85"/><circle cx="528.1" cy="170.6" r="2.85"/><circle cx="532.4" cy="170.3" r="2.85"/><circle cx="519.6" cy="172.3" r="2.85"/><circle cx="522.4" cy="172.3" r="2.85"/><circle cx="560.6" cy="150.8" r="2.85"/><circle cx="564.6" cy="151.3" r="2.85"/><circle cx="566.5" cy="150.4" r="2.85"/><circle cx="558.5" cy="154.4" r="2.85"/><circle cx="562.9" cy="154.8" r="2.85"/><circle cx="555.9" cy="157.3" r="2.85"/><circle cx="557.4" cy="155.6" r="2.85"/><circle cx="561.1" cy="155.7" r="2.85"/><circle cx="548.2" cy="159.8" r="2.85"/><circle cx="550.9" cy="158.8" r="2.85"/><circle cx="553.9" cy="159.7" r="2.85"/><circle cx="556.8" cy="158.4" r="2.85"/><circle cx="546.7" cy="161.1" r="2.85"/><circle cx="549.9" cy="160.7" r="2.85"/><circle cx="584.5" cy="109.6" r="2.85"/><circle cx="587.3" cy="109.3" r="2.85"/><circle cx="581.2" cy="112.6" r="2.85"/><circle cx="584.9" cy="111.8" r="2.85"/><circle cx="587.7" cy="111.7" r="2.85"/><circle cx="590.3" cy="110.7" r="2.85"/><circle cx="584" cy="114.8" r="2.85"/><circle cx="586.7" cy="114.8" r="2.85"/><circle cx="588.7" cy="114.2" r="2.85"/><circle cx="593.2" cy="113.7" r="2.85"/><circle cx="586" cy="116.7" r="2.85"/><circle cx="587" cy="116" r="2.85"/><circle cx="591.5" cy="117.9" r="2.85"/><circle cx="585.8" cy="118.8" r="2.85"/><circle cx="589.2" cy="120.4" r="2.85"/><circle cx="592.2" cy="119.7" r="2.85"/><circle cx="588.8" cy="123.1" r="2.85"/><circle cx="590.8" cy="123.1" r="2.85"/><circle cx="590.1" cy="124.7" r="2.85"/><circle cx="593.2" cy="123.7" r="2.85"/><circle cx="569.7" cy="134.5" r="2.85"/><circle cx="572.9" cy="134.5" r="2.85"/><circle cx="567.6" cy="135.5" r="2.85"/><circle cx="571.7" cy="136.4" r="2.85"/><circle cx="574.9" cy="136.8" r="2.85"/><circle cx="566.9" cy="139" r="2.85"/><circle cx="569" cy="139.8" r="2.85"/><circle cx="572.1" cy="139.4" r="2.85"/><circle cx="568.4" cy="140.7" r="2.85"/><circle cx="570.1" cy="141.5" r="2.85"/><circle cx="573" cy="142.3" r="2.85"/><circle cx="570.4" cy="143.6" r="2.85"/><circle cx="572.2" cy="144.2" r="2.85"/><circle cx="575.1" cy="144.2" r="2.85"/><circle cx="568.4" cy="146.6" r="2.85"/><circle cx="570.1" cy="147.6" r="2.85"/><circle cx="573.7" cy="146.4" r="2.85"/><circle cx="567.4" cy="149.2" r="2.85"/><circle cx="569.3" cy="148.3" r="2.85"/><circle cx="573.3" cy="148.5" r="2.85"/><circle cx="567.4" cy="150.8" r="2.85"/><circle cx="571.1" cy="152.4" r="2.85"/></g>
<path d="M515.6 175.2L646 72" stroke="#0e2249" stroke-width="2.7" stroke-dasharray="8 3" fill="none"/>
<text x="592.3" y="158" font-weight="bold" font-size="8.72" fill="#1d3a74" font-family="Liberation Sans, sans-serif" stroke="#1d3a74" stroke-width="0.22">y = 0.4738x - 0.0522</text><text x="609.7" y="167.8" font-weight="bold" font-size="8.72" fill="#1d3a74" font-family="Liberation Sans, sans-serif" stroke="#1d3a74" stroke-width="0.22">R² = 0.7106</text>
<path d="M47.2 232.9V392.5" stroke="#262626" stroke-width="1.3" fill="none"/><path d="M47.2 232.9h2.8" stroke="#262626" stroke-width="1.3"/><path d="M47.2 272.7h2.8" stroke="#262626" stroke-width="1.3"/><path d="M47.2 312.6h2.8" stroke="#262626" stroke-width="1.3"/><path d="M47.2 352.4h2.8" stroke="#262626" stroke-width="1.3"/><path d="M47.2 392.2h2.8" stroke="#262626" stroke-width="1.3"/><path d="M47.2 392.5H216.4" stroke="#1fa01f" stroke-width="1.3" fill="none"/><path d="M47.2 392.5v-2.6" stroke="#1fa01f" stroke-width="1.3"/><path d="M75.4 392.5v-2.6" stroke="#1fa01f" stroke-width="1.3"/><path d="M103.6 392.5v-2.6" stroke="#1fa01f" stroke-width="1.3"/><path d="M131.8 392.5v-2.6" stroke="#1fa01f" stroke-width="1.3"/><path d="M160 392.5v-2.6" stroke="#1fa01f" stroke-width="1.3"/><path d="M188.2 392.5v-2.6" stroke="#1fa01f" stroke-width="1.3"/><path d="M216.4 392.5v-2.6" stroke="#1fa01f" stroke-width="1.3"/><text x="38.8" y="235.6" text-anchor="end" font-weight="bold" font-size="8.3" fill="#111" font-family="Liberation Sans, sans-serif" stroke="#111" stroke-width="0.22">0.8</text><text x="38.8" y="275.4" text-anchor="end" font-weight="bold" font-size="8.3" fill="#111" font-family="Liberation Sans, sans-serif" stroke="#111" stroke-width="0.22">0.6</text><text x="38.8" y="315.2" text-anchor="end" font-weight="bold" font-size="8.3" fill="#111" font-family="Liberation Sans, sans-serif" stroke="#111" stroke-width="0.22">0.4</text><text x="38.8" y="355.1" text-anchor="end" font-weight="bold" font-size="8.3" fill="#111" font-family="Liberation Sans, sans-serif" stroke="#111" stroke-width="0.22">0.2</text><text x="38.8" y="394.9" text-anchor="end" font-weight="bold" font-size="8.3" fill="#111" font-family="Liberation Sans, sans-serif" stroke="#111" stroke-width="0.22">0</text><text x="47.2" y="405.6" text-anchor="middle" font-weight="bold" font-size="8.3" fill="#1fa01f" font-family="Liberation Sans, sans-serif" stroke="#1fa01f" stroke-width="0.22">0</text><text x="75.4" y="405.6" text-anchor="middle" font-weight="bold" font-size="8.3" fill="#1fa01f" font-family="Liberation Sans, sans-serif" stroke="#1fa01f" stroke-width="0.22">0.2</text><text x="103.6" y="405.6" text-anchor="middle" font-weight="bold" font-size="8.3" fill="#1fa01f" font-family="Liberation Sans, sans-serif" stroke="#1fa01f" stroke-width="0.22">0.4</text><text x="131.8" y="405.6" text-anchor="middle" font-weight="bold" font-size="8.3" fill="#1fa01f" font-family="Liberation Sans, sans-serif" stroke="#1fa01f" stroke-width="0.22">0.6</text><text x="160" y="405.6" text-anchor="middle" font-weight="bold" font-size="8.3" fill="#1fa01f" font-family="Liberation Sans, sans-serif" stroke="#1fa01f" stroke-width="0.22">0.8</text><text x="188.2" y="405.6" text-anchor="middle" font-weight="bold" font-size="8.3" fill="#1fa01f" font-family="Liberation Sans, sans-serif" stroke="#1fa01f" stroke-width="0.22">1</text><text x="216.4" y="405.6" text-anchor="middle" font-weight="bold" font-size="8.3" fill="#1fa01f" font-family="Liberation Sans, sans-serif" stroke="#1fa01f" stroke-width="0.22">1.2</text><text transform="translate(17.8 307.7) rotate(-90)" text-anchor="middle" font-weight="bold" font-size="10.1" fill="#111" font-family="Liberation Sans, sans-serif" stroke="#111" stroke-width="0.22">normalized flood intensity</text><text x="-0.9" y="235.8" font-size="17.5" fill="#111" font-family="Liberation Serif, serif">(d)</text>
<g fill="#0b27e0"><circle cx="152" cy="251.5" r="2.85"/><circle cx="163" cy="249" r="2.85"/><circle cx="165.2" cy="249.5" r="2.85"/><circle cx="175.3" cy="273.1" r="2.85"/><circle cx="118.8" cy="293.3" r="2.85"/><circle cx="117.1" cy="295.7" r="2.85"/><circle cx="122.9" cy="292.5" r="2.85"/><circle cx="121.2" cy="297.4" r="2.85"/><circle cx="124.2" cy="301.1" r="2.85"/><circle cx="129.8" cy="297" r="2.85"/><circle cx="122.9" cy="306.9" r="2.85"/><circle cx="149.1" cy="302.3" r="2.85"/><circle cx="164.7" cy="292.5" r="2.85"/><circle cx="162.2" cy="297.7" r="2.85"/><circle cx="169.6" cy="297.4" r="2.85"/><circle cx="172.9" cy="299" r="2.85"/><circle cx="119.1" cy="293.4" r="2.85"/><circle cx="123.4" cy="292.9" r="2.85"/><circle cx="99.4" cy="324.1" r="2.85"/><circle cx="115.4" cy="318.2" r="2.85"/><circle cx="120.5" cy="318.2" r="2.85"/><circle cx="123.5" cy="319" r="2.85"/><circle cx="130" cy="318.2" r="2.85"/><circle cx="134.4" cy="318.2" r="2.85"/><circle cx="146.8" cy="315.3" r="2.85"/><circle cx="155.6" cy="316.1" r="2.85"/><circle cx="157.8" cy="318.2" r="2.85"/><circle cx="163.6" cy="311.7" r="2.85"/><circle cx="164.3" cy="317.5" r="2.85"/><circle cx="178.9" cy="313.1" r="2.85"/><circle cx="183.8" cy="315.3" r="2.85"/><circle cx="146.8" cy="321.2" r="2.85"/><circle cx="150.5" cy="323.4" r="2.85"/><circle cx="156.3" cy="322.6" r="2.85"/><circle cx="160.7" cy="321.2" r="2.85"/><circle cx="140.3" cy="323.4" r="2.85"/><circle cx="137.3" cy="325.5" r="2.85"/><circle cx="139.5" cy="330.7" r="2.85"/><circle cx="134.4" cy="329.2" r="2.85"/><circle cx="108.1" cy="328.5" r="2.85"/><circle cx="112.5" cy="326.3" r="2.85"/><circle cx="116.9" cy="326.3" r="2.85"/><circle cx="121.3" cy="324.8" r="2.85"/><circle cx="125.7" cy="325.5" r="2.85"/><circle cx="130" cy="323.4" r="2.85"/><circle cx="133" cy="322.6" r="2.85"/><circle cx="150.5" cy="328.5" r="2.85"/><circle cx="154.9" cy="329.2" r="2.85"/><circle cx="160.7" cy="327" r="2.85"/><circle cx="165.1" cy="327.7" r="2.85"/><circle cx="187.7" cy="331.1" r="2.85"/><circle cx="168" cy="334.6" r="2.85"/><circle cx="181.1" cy="337.2" r="2.85"/><circle cx="106" cy="335" r="2.85"/><circle cx="111.1" cy="333.6" r="2.85"/><circle cx="116.2" cy="334.3" r="2.85"/><circle cx="121.3" cy="333.6" r="2.85"/><circle cx="125.7" cy="335" r="2.85"/><circle cx="130" cy="334.3" r="2.85"/><circle cx="97.2" cy="341.2" r="2.85"/><circle cx="103.8" cy="343.1" r="2.85"/><circle cx="100.1" cy="347.4" r="2.85"/><circle cx="86.3" cy="351.2" r="2.85"/><circle cx="97.3" cy="342.1" r="2.85"/><circle cx="103.9" cy="344" r="2.85"/><circle cx="100.1" cy="348.7" r="2.85"/><circle cx="96.3" cy="360.1" r="2.85"/><circle cx="181.7" cy="337.3" r="2.85"/><circle cx="178.9" cy="344" r="2.85"/><circle cx="152.3" cy="354.4" r="2.85"/><circle cx="174.1" cy="342.1" r="2.85"/><circle cx="105" cy="335.6" r="2.85"/><circle cx="107.8" cy="339.4" r="2.85"/><circle cx="163.5" cy="311.9" r="2.85"/><circle cx="162.7" cy="316.7" r="2.85"/><circle cx="157.4" cy="316.7" r="2.85"/><circle cx="161.2" cy="321.3" r="2.85"/><circle cx="147.5" cy="320.5" r="2.85"/><circle cx="151.3" cy="322.8" r="2.85"/><circle cx="149.8" cy="326.6" r="2.85"/><circle cx="152.8" cy="328.2" r="2.85"/><circle cx="156.6" cy="326.6" r="2.85"/><circle cx="160.4" cy="328.2" r="2.85"/><circle cx="165" cy="327.4" r="2.85"/><circle cx="145.2" cy="342.6" r="2.85"/><circle cx="152.8" cy="341.1" r="2.85"/><circle cx="160.4" cy="341.8" r="2.85"/><circle cx="166.5" cy="341.8" r="2.85"/><circle cx="171.1" cy="343.4" r="2.85"/><circle cx="174.9" cy="341.1" r="2.85"/><circle cx="177.9" cy="345.7" r="2.85"/><circle cx="152.8" cy="345.7" r="2.85"/><circle cx="160.4" cy="347.2" r="2.85"/><circle cx="165" cy="348.7" r="2.85"/><circle cx="149.8" cy="353.3" r="2.85"/><circle cx="139.1" cy="357.8" r="2.85"/><circle cx="104" cy="330" r="2.85"/><circle cx="107" cy="333" r="2.85"/><circle cx="110" cy="331" r="2.85"/><circle cx="108" cy="337" r="2.85"/><circle cx="111" cy="340" r="2.85"/><circle cx="109" cy="344" r="2.85"/><circle cx="112" cy="347" r="2.85"/><circle cx="110" cy="351" r="2.85"/><circle cx="113" cy="354" r="2.85"/><circle cx="108" cy="356" r="2.85"/><circle cx="114" cy="336" r="2.85"/><circle cx="113" cy="326" r="2.85"/><circle cx="127.3" cy="323.2" r="2.85"/><circle cx="130" cy="322.7" r="2.85"/><circle cx="133.5" cy="323" r="2.85"/><circle cx="119.5" cy="325.5" r="2.85"/><circle cx="123" cy="327.7" r="2.85"/><circle cx="128.9" cy="325.2" r="2.85"/><circle cx="131.9" cy="325.2" r="2.85"/><circle cx="136.2" cy="326.2" r="2.85"/><circle cx="118.1" cy="330.6" r="2.85"/><circle cx="123.3" cy="330.2" r="2.85"/><circle cx="125.4" cy="330.9" r="2.85"/><circle cx="128.6" cy="329.4" r="2.85"/><circle cx="135.1" cy="330.2" r="2.85"/><circle cx="137.5" cy="328.4" r="2.85"/><circle cx="119.3" cy="333.8" r="2.85"/><circle cx="123" cy="333.1" r="2.85"/><circle cx="128.6" cy="331.8" r="2.85"/><circle cx="131.7" cy="334.3" r="2.85"/><circle cx="134.7" cy="332.5" r="2.85"/><circle cx="140.4" cy="332.6" r="2.85"/><circle cx="115" cy="338.1" r="2.85"/><circle cx="116.7" cy="336.1" r="2.85"/><circle cx="122.8" cy="337.4" r="2.85"/><circle cx="126.7" cy="336.3" r="2.85"/><circle cx="128.3" cy="336.2" r="2.85"/><circle cx="134.5" cy="336.1" r="2.85"/><circle cx="136.8" cy="336.6" r="2.85"/><circle cx="141" cy="336.6" r="2.85"/><circle cx="147.3" cy="338.4" r="2.85"/><circle cx="154.3" cy="338.6" r="2.85"/><circle cx="116.2" cy="339.5" r="2.85"/><circle cx="120.9" cy="338.7" r="2.85"/><circle cx="125.1" cy="340.9" r="2.85"/><circle cx="129.1" cy="341.7" r="2.85"/><circle cx="132.9" cy="340.5" r="2.85"/><circle cx="133.7" cy="341.1" r="2.85"/><circle cx="138.1" cy="339.6" r="2.85"/><circle cx="143.8" cy="340.4" r="2.85"/><circle cx="146.8" cy="341.8" r="2.85"/><circle cx="151.4" cy="339.7" r="2.85"/><circle cx="154" cy="341.5" r="2.85"/><circle cx="158.7" cy="341.3" r="2.85"/><circle cx="166.7" cy="341.4" r="2.85"/><circle cx="169.3" cy="341.3" r="2.85"/><circle cx="115.1" cy="341.9" r="2.85"/><circle cx="118.3" cy="344.9" r="2.85"/><circle cx="120.2" cy="342.8" r="2.85"/><circle cx="124.8" cy="343.7" r="2.85"/><circle cx="129.3" cy="343.5" r="2.85"/><circle cx="134.4" cy="341.9" r="2.85"/><circle cx="135.8" cy="342.3" r="2.85"/><circle cx="139.9" cy="342.1" r="2.85"/><circle cx="146.8" cy="344.9" r="2.85"/><circle cx="147.6" cy="343.6" r="2.85"/><circle cx="152.3" cy="343" r="2.85"/><circle cx="156.3" cy="344.2" r="2.85"/><circle cx="161.1" cy="343.2" r="2.85"/><circle cx="163.6" cy="343" r="2.85"/><circle cx="167.2" cy="343.8" r="2.85"/><circle cx="115.5" cy="347.4" r="2.85"/><circle cx="120.8" cy="346.6" r="2.85"/><circle cx="124.8" cy="347.5" r="2.85"/><circle cx="127.4" cy="346.6" r="2.85"/><circle cx="131.5" cy="347.7" r="2.85"/><circle cx="135.1" cy="347.7" r="2.85"/><circle cx="139.2" cy="346.1" r="2.85"/><circle cx="143.3" cy="347.7" r="2.85"/><circle cx="145.6" cy="346.8" r="2.85"/><circle cx="150.7" cy="348.4" r="2.85"/><circle cx="156.4" cy="346.6" r="2.85"/><circle cx="161.9" cy="346.9" r="2.85"/><circle cx="114.8" cy="350.6" r="2.85"/><circle cx="116.5" cy="350.7" r="2.85"/><circle cx="120" cy="349.1" r="2.85"/><circle cx="126.6" cy="348.8" r="2.85"/><circle cx="128.1" cy="349" r="2.85"/><circle cx="134.8" cy="349.3" r="2.85"/><circle cx="135.7" cy="351.6" r="2.85"/><circle cx="139.9" cy="351.6" r="2.85"/><circle cx="115" cy="354.2" r="2.85"/><circle cx="120.7" cy="353.4" r="2.85"/><circle cx="123.2" cy="353.4" r="2.85"/><circle cx="127.1" cy="353.5" r="2.85"/><circle cx="130" cy="353.8" r="2.85"/><circle cx="137.1" cy="353.5" r="2.85"/><circle cx="140.2" cy="352.6" r="2.85"/><circle cx="129.8" cy="356.3" r="2.85"/><circle cx="132.5" cy="355.5" r="2.85"/><circle cx="103" cy="360.1" r="2.85"/><circle cx="106" cy="360.1" r="2.85"/><circle cx="108.9" cy="360.1" r="2.85"/><circle cx="111.8" cy="360.1" r="2.85"/><circle cx="114.8" cy="360.1" r="2.85"/><circle cx="117.8" cy="360.1" r="2.85"/><circle cx="120.7" cy="360.1" r="2.85"/><circle cx="123.7" cy="360.1" r="2.85"/><circle cx="126.6" cy="360.1" r="2.85"/><circle cx="129.6" cy="360.1" r="2.85"/><circle cx="132.5" cy="360.1" r="2.85"/><circle cx="135.4" cy="360.1" r="2.85"/><circle cx="138.4" cy="360.1" r="2.85"/><circle cx="141.3" cy="360.1" r="2.85"/></g>
<path d="M86.1 355.6L188.2 322.3" stroke="#0e2249" stroke-width="2.7" stroke-dasharray="8 3" fill="none"/>
<text x="129.1" y="370.9" font-weight="bold" font-size="8.72" fill="#1d3a74" font-family="Liberation Sans, sans-serif" stroke="#1d3a74" stroke-width="0.22">y = 0.2307x + 0.1203</text><text x="148.1" y="379.8" font-weight="bold" font-size="8.72" fill="#1d3a74" font-family="Liberation Sans, sans-serif" stroke="#1d3a74" stroke-width="0.22">R² = 0.1109</text>
<text x="253" y="424.5" text-anchor="middle" font-weight="bold" font-size="10.2" fill="#1fa01f" font-family="Liberation Sans, sans-serif" stroke="#1fa01f" stroke-width="0.22">normalized precipitation intensity</text>
<path d="M272.2 234.5V392.6" stroke="#262626" stroke-width="1.3" fill="none"/><path d="M272.2 234.5h2.8" stroke="#262626" stroke-width="1.3"/><path d="M272.2 266.1h2.8" stroke="#262626" stroke-width="1.3"/><path d="M272.2 297.7h2.8" stroke="#262626" stroke-width="1.3"/><path d="M272.2 329.4h2.8" stroke="#262626" stroke-width="1.3"/><path d="M272.2 361h2.8" stroke="#262626" stroke-width="1.3"/><path d="M272.2 392.6h2.8" stroke="#262626" stroke-width="1.3"/><path d="M272.2 392.6H453.4" stroke="#1fa01f" stroke-width="1.3" fill="none"/><path d="M272.2 392.6v-2.6" stroke="#1fa01f" stroke-width="1.3"/><path d="M317.5 392.6v-2.6" stroke="#1fa01f" stroke-width="1.3"/><path d="M362.8 392.6v-2.6" stroke="#1fa01f" stroke-width="1.3"/><path d="M408.1 392.6v-2.6" stroke="#1fa01f" stroke-width="1.3"/><path d="M453.4 392.6v-2.6" stroke="#1fa01f" stroke-width="1.3"/><text x="265" y="237.2" text-anchor="end" font-weight="bold" font-size="8.3" fill="#111" font-family="Liberation Sans, sans-serif" stroke="#111" stroke-width="0.22">5</text><text x="265" y="268.8" text-anchor="end" font-weight="bold" font-size="8.3" fill="#111" font-family="Liberation Sans, sans-serif" stroke="#111" stroke-width="0.22">4</text><text x="265" y="300.4" text-anchor="end" font-weight="bold" font-size="8.3" fill="#111" font-family="Liberation Sans, sans-serif" stroke="#111" stroke-width="0.22">3</text><text x="265" y="332.1" text-anchor="end" font-weight="bold" font-size="8.3" fill="#111" font-family="Liberation Sans, sans-serif" stroke="#111" stroke-width="0.22">2</text><text x="265" y="363.7" text-anchor="end" font-weight="bold" font-size="8.3" fill="#111" font-family="Liberation Sans, sans-serif" stroke="#111" stroke-width="0.22">1</text><text x="265" y="395.3" text-anchor="end" font-weight="bold" font-size="8.3" fill="#111" font-family="Liberation Sans, sans-serif" stroke="#111" stroke-width="0.22">0</text><text x="272.2" y="405.7" text-anchor="middle" font-weight="bold" font-size="8.3" fill="#1fa01f" font-family="Liberation Sans, sans-serif" stroke="#1fa01f" stroke-width="0.22">0</text><text x="317.5" y="405.7" text-anchor="middle" font-weight="bold" font-size="8.3" fill="#1fa01f" font-family="Liberation Sans, sans-serif" stroke="#1fa01f" stroke-width="0.22">2</text><text x="362.8" y="405.7" text-anchor="middle" font-weight="bold" font-size="8.3" fill="#1fa01f" font-family="Liberation Sans, sans-serif" stroke="#1fa01f" stroke-width="0.22">4</text><text x="408.1" y="405.7" text-anchor="middle" font-weight="bold" font-size="8.3" fill="#1fa01f" font-family="Liberation Sans, sans-serif" stroke="#1fa01f" stroke-width="0.22">6</text><text x="453.4" y="405.7" text-anchor="middle" font-weight="bold" font-size="8.3" fill="#1fa01f" font-family="Liberation Sans, sans-serif" stroke="#1fa01f" stroke-width="0.22">8</text><text transform="translate(245.1 314.9) rotate(-90)" text-anchor="middle" font-weight="bold" font-size="10.1" fill="#111" font-family="Liberation Sans, sans-serif" stroke="#111" stroke-width="0.22">normalized flood intensity</text><text x="230.5" y="235.7" font-size="17.5" fill="#111" font-family="Liberation Serif, serif">(e)</text>
<g fill="#0303f4"><circle cx="384.4" cy="250.3" r="2.85"/><circle cx="390.6" cy="257.8" r="2.85"/><circle cx="441" cy="273.4" r="2.85"/><circle cx="439.7" cy="282.2" r="2.85"/><circle cx="398.1" cy="280.9" r="2.85"/><circle cx="346.9" cy="290.6" r="2.85"/><circle cx="378.2" cy="290.3" r="2.85"/><circle cx="386.3" cy="294" r="2.85"/><circle cx="339" cy="306.2" r="2.85"/><circle cx="362.8" cy="301.9" r="2.85"/><circle cx="367.5" cy="300" r="2.85"/><circle cx="361.9" cy="306.6" r="2.85"/><circle cx="381.6" cy="300.4" r="2.85"/><circle cx="385.9" cy="303.4" r="2.85"/><circle cx="393.8" cy="301.9" r="2.85"/><circle cx="396.6" cy="304.7" r="2.85"/><circle cx="416.6" cy="302.8" r="2.85"/><circle cx="371.3" cy="307.5" r="2.85"/><circle cx="378.8" cy="307.5" r="2.85"/><circle cx="383.4" cy="309.8" r="2.85"/><circle cx="390" cy="309" r="2.85"/><circle cx="394.7" cy="311.3" r="2.85"/><circle cx="406.9" cy="306.6" r="2.85"/><circle cx="416.3" cy="314.6" r="2.85"/><circle cx="408.8" cy="317.3" r="2.85"/><circle cx="350.6" cy="311.3" r="2.85"/><circle cx="356.3" cy="308.4" r="2.85"/><circle cx="355.3" cy="314.1" r="2.85"/><circle cx="360.9" cy="313.1" r="2.85"/><circle cx="370.3" cy="312.2" r="2.85"/><circle cx="372.2" cy="316.5" r="2.85"/><circle cx="375.9" cy="316.9" r="2.85"/><circle cx="379.7" cy="314.1" r="2.85"/><circle cx="388.1" cy="316.9" r="2.85"/><circle cx="364.7" cy="302.8" r="2.85"/><circle cx="371.3" cy="318.8" r="2.85"/><circle cx="385.3" cy="303.8" r="2.85"/><circle cx="395.6" cy="304.7" r="2.85"/><circle cx="417.2" cy="302.8" r="2.85"/><circle cx="386.3" cy="320.6" r="2.85"/><circle cx="354.4" cy="323.4" r="2.85"/><circle cx="358.1" cy="320.6" r="2.85"/><circle cx="362.8" cy="324.4" r="2.85"/><circle cx="367.5" cy="325.3" r="2.85"/><circle cx="370.3" cy="322.5" r="2.85"/><circle cx="375" cy="321.6" r="2.85"/><circle cx="345.9" cy="324.4" r="2.85"/><circle cx="342.2" cy="327.2" r="2.85"/><circle cx="336.6" cy="328.1" r="2.85"/><circle cx="331.9" cy="331.9" r="2.85"/><circle cx="390" cy="327.2" r="2.85"/><circle cx="397.1" cy="329.1" r="2.85"/><circle cx="405" cy="327.2" r="2.85"/><circle cx="411.6" cy="330.4" r="2.85"/><circle cx="352.5" cy="333.8" r="2.85"/><circle cx="373.1" cy="330.9" r="2.85"/><circle cx="376.9" cy="334.7" r="2.85"/><circle cx="375" cy="338.4" r="2.85"/><circle cx="341.3" cy="334.7" r="2.85"/><circle cx="338.4" cy="340.3" r="2.85"/><circle cx="348.8" cy="340.3" r="2.85"/><circle cx="353.4" cy="340.3" r="2.85"/><circle cx="360" cy="338.4" r="2.85"/><circle cx="364.7" cy="340.3" r="2.85"/><circle cx="367.5" cy="342.2" r="2.85"/><circle cx="388.1" cy="337.5" r="2.85"/><circle cx="397.5" cy="339.4" r="2.85"/><circle cx="389.1" cy="343.1" r="2.85"/><circle cx="382.9" cy="345.9" r="2.85"/><circle cx="375.9" cy="345" r="2.85"/><circle cx="356.3" cy="345" r="2.85"/><circle cx="360" cy="347.8" r="2.85"/><circle cx="367.5" cy="350.3" r="2.85"/><circle cx="363.8" cy="356.3" r="2.85"/><circle cx="347.8" cy="347.8" r="2.85"/><circle cx="345" cy="352.5" r="2.85"/><circle cx="350.6" cy="354.4" r="2.85"/><circle cx="353.4" cy="358.1" r="2.85"/><circle cx="342.2" cy="356.3" r="2.85"/><circle cx="337.5" cy="358.1" r="2.85"/><circle cx="340.3" cy="361.9" r="2.85"/><circle cx="347.8" cy="360.9" r="2.85"/><circle cx="353.4" cy="362.8" r="2.85"/><circle cx="333.8" cy="360" r="2.85"/><circle cx="330.9" cy="366.6" r="2.85"/><circle cx="337.5" cy="364.7" r="2.85"/><circle cx="330" cy="350.6" r="2.85"/><circle cx="323.4" cy="326" r="2.85"/><circle cx="331.4" cy="331.6" r="2.85"/><circle cx="336.7" cy="327.5" r="2.85"/><circle cx="342.8" cy="327.1" r="2.85"/><circle cx="345.9" cy="324.8" r="2.85"/><circle cx="341.3" cy="333.9" r="2.85"/><circle cx="351.2" cy="333.2" r="2.85"/><circle cx="331.4" cy="332.3" r="2.85"/><circle cx="338.2" cy="340.7" r="2.85"/><circle cx="340.5" cy="334.6" r="2.85"/><circle cx="316.6" cy="342.9" r="2.85"/><circle cx="312.3" cy="357.1" r="2.85"/><circle cx="317.7" cy="354.3" r="2.85"/><circle cx="308.5" cy="362" r="2.85"/><circle cx="304.7" cy="365.3" r="2.85"/><circle cx="326.8" cy="352.5" r="2.85"/><circle cx="329.8" cy="351.3" r="2.85"/><circle cx="320.7" cy="360.4" r="2.85"/><circle cx="325.3" cy="361.2" r="2.85"/><circle cx="334.4" cy="362.7" r="2.85"/><circle cx="339" cy="364.2" r="2.85"/><circle cx="329.8" cy="368.8" r="2.85"/><circle cx="297.9" cy="371.1" r="2.85"/><circle cx="300.2" cy="374.1" r="2.85"/><circle cx="311.6" cy="367.3" r="2.85"/><circle cx="320.7" cy="368" r="2.85"/><circle cx="320.7" cy="372.6" r="2.85"/><circle cx="317.7" cy="375.7" r="2.85"/><circle cx="311.6" cy="377.2" r="2.85"/><circle cx="307" cy="378.7" r="2.85"/><circle cx="302.4" cy="374.1" r="2.85"/><circle cx="304" cy="378.7" r="2.85"/><circle cx="300.9" cy="382.5" r="2.85"/><circle cx="273.5" cy="387.8" r="2.85"/><circle cx="299.8" cy="379.3" r="2.85"/><circle cx="289.1" cy="380.7" r="2.85"/><circle cx="292.6" cy="381.4" r="2.85"/><circle cx="294.2" cy="380.9" r="2.85"/><circle cx="296.5" cy="381.1" r="2.85"/><circle cx="298.6" cy="381.5" r="2.85"/><circle cx="279.8" cy="383.7" r="2.85"/><circle cx="281.2" cy="384" r="2.85"/><circle cx="284" cy="383.8" r="2.85"/><circle cx="285.9" cy="382.7" r="2.85"/><circle cx="288.5" cy="382.6" r="2.85"/><circle cx="290.8" cy="384" r="2.85"/><circle cx="293.1" cy="382.4" r="2.85"/><circle cx="295" cy="382.7" r="2.85"/><circle cx="278.1" cy="384.7" r="2.85"/><circle cx="279.4" cy="385.3" r="2.85"/><circle cx="282.2" cy="386.1" r="2.85"/><circle cx="284.4" cy="385.4" r="2.85"/><circle cx="287.9" cy="385.2" r="2.85"/><circle cx="290.6" cy="385.3" r="2.85"/><circle cx="291.8" cy="385.2" r="2.85"/><circle cx="276.1" cy="388" r="2.85"/><circle cx="278.4" cy="386.6" r="2.85"/><circle cx="282.1" cy="387.5" r="2.85"/><circle cx="284.6" cy="387.2" r="2.85"/><circle cx="278.6" cy="388.8" r="2.85"/><circle cx="319.4" cy="371.2" r="2.85"/><circle cx="321.2" cy="370.6" r="2.85"/><circle cx="300.8" cy="373.1" r="2.85"/><circle cx="303.7" cy="373.8" r="2.85"/><circle cx="306.9" cy="373.8" r="2.85"/><circle cx="315.4" cy="373.2" r="2.85"/><circle cx="318.1" cy="373.4" r="2.85"/><circle cx="320" cy="373.8" r="2.85"/><circle cx="296.9" cy="376.5" r="2.85"/><circle cx="299.6" cy="376.5" r="2.85"/><circle cx="302.3" cy="375.3" r="2.85"/><circle cx="305.4" cy="376" r="2.85"/><circle cx="307.8" cy="375.1" r="2.85"/><circle cx="310.5" cy="375.4" r="2.85"/><circle cx="313.3" cy="376.4" r="2.85"/><circle cx="315.8" cy="374.9" r="2.85"/><circle cx="295.3" cy="378.1" r="2.85"/><circle cx="298.2" cy="378.7" r="2.85"/><circle cx="300.5" cy="377.5" r="2.85"/><circle cx="304.1" cy="378.1" r="2.85"/><circle cx="306.1" cy="377.6" r="2.85"/><circle cx="287.7" cy="380.2" r="2.85"/><circle cx="291.6" cy="381.2" r="2.85"/><circle cx="293.7" cy="379.8" r="2.85"/><circle cx="297.1" cy="381.1" r="2.85"/><circle cx="299.4" cy="381.3" r="2.85"/><circle cx="302.4" cy="380.7" r="2.85"/><circle cx="280.9" cy="383.2" r="2.85"/><circle cx="284.4" cy="383.3" r="2.85"/><circle cx="287.4" cy="382.4" r="2.85"/><circle cx="288.7" cy="382.3" r="2.85"/><circle cx="292.9" cy="382.6" r="2.85"/><circle cx="294.3" cy="382.4" r="2.85"/><circle cx="283" cy="385.1" r="2.85"/><circle cx="286" cy="384.9" r="2.85"/><circle cx="287.8" cy="384.9" r="2.85"/><circle cx="290.4" cy="384.9" r="2.85"/><circle cx="277.9" cy="388.1" r="2.85"/><circle cx="281.7" cy="388.5" r="2.85"/><circle cx="360.7" cy="339" r="2.85"/><circle cx="362.1" cy="338" r="2.85"/><circle cx="356.1" cy="343.6" r="2.85"/><circle cx="362.5" cy="341.5" r="2.85"/><circle cx="365.9" cy="343.2" r="2.85"/><circle cx="367.6" cy="343" r="2.85"/><circle cx="360.2" cy="347.2" r="2.85"/><circle cx="361.8" cy="345" r="2.85"/><circle cx="367.3" cy="346" r="2.85"/><circle cx="369.6" cy="346.9" r="2.85"/><circle cx="356.5" cy="349.4" r="2.85"/><circle cx="361.1" cy="349.4" r="2.85"/><circle cx="365.1" cy="348.5" r="2.85"/><circle cx="367.2" cy="347.6" r="2.85"/><circle cx="346.3" cy="352.5" r="2.85"/><circle cx="352" cy="350.6" r="2.85"/><circle cx="343.2" cy="354.9" r="2.85"/><circle cx="344" cy="354.1" r="2.85"/><circle cx="350.3" cy="355.8" r="2.85"/><circle cx="353.8" cy="356.2" r="2.85"/><circle cx="344.6" cy="359" r="2.85"/><circle cx="348.5" cy="358.9" r="2.85"/><circle cx="351.6" cy="357.1" r="2.85"/><circle cx="353.7" cy="357.9" r="2.85"/><circle cx="340.4" cy="361.1" r="2.85"/><circle cx="345.9" cy="361.4" r="2.85"/><circle cx="348.7" cy="360.8" r="2.85"/><circle cx="352" cy="363.3" r="2.85"/><circle cx="342.4" cy="364.6" r="2.85"/><circle cx="371.1" cy="328.4" r="2.85"/><circle cx="375.4" cy="328.1" r="2.85"/><circle cx="369.3" cy="329.1" r="2.85"/><circle cx="373.4" cy="330.4" r="2.85"/><circle cx="371.1" cy="332.1" r="2.85"/><circle cx="373.8" cy="335.1" r="2.85"/><circle cx="377.2" cy="313.8" r="2.85"/><circle cx="372.3" cy="317.5" r="2.85"/><circle cx="377.8" cy="315.1" r="2.85"/><circle cx="379.7" cy="315.1" r="2.85"/><circle cx="373.4" cy="318.3" r="2.85"/></g>
<path d="M274.5 392.6L439.8 282.3" stroke="#0e2249" stroke-width="2.7" stroke-dasharray="8 3" fill="none"/>
<text x="359.1" y="372" font-weight="bold" font-size="8.72" fill="#1d3a74" font-family="Liberation Sans, sans-serif" stroke="#1d3a74" stroke-width="0.22">y = 0.4779x - 0.0476</text><text x="375.9" y="380.5" font-weight="bold" font-size="8.72" fill="#1d3a74" font-family="Liberation Sans, sans-serif" stroke="#1d3a74" stroke-width="0.22">R² = 0.8219</text>
<rect x="503.2" y="224.5" width="175.3" height="168.6" fill="url(#bg)"/>
<path d="M502.5 225.8V394.5" stroke="#262626" stroke-width="1.3" fill="none"/><path d="M502.5 225.8h2.8" stroke="#262626" stroke-width="1.3"/><path d="M502.5 253.8h2.8" stroke="#262626" stroke-width="1.3"/><path d="M502.5 281.8h2.8" stroke="#262626" stroke-width="1.3"/><path d="M502.5 309.8h2.8" stroke="#262626" stroke-width="1.3"/><path d="M502.5 337.8h2.8" stroke="#262626" stroke-width="1.3"/><path d="M502.5 365.8h2.8" stroke="#262626" stroke-width="1.3"/><path d="M502.5 393.8h2.8" stroke="#262626" stroke-width="1.3"/><path d="M502.5 394.5H678.2" stroke="#1fa01f" stroke-width="1.3" fill="none"/><path d="M502.5 394.5v-2.6" stroke="#1fa01f" stroke-width="1.3"/><path d="M537.6 394.5v-2.6" stroke="#1fa01f" stroke-width="1.3"/><path d="M572.7 394.5v-2.6" stroke="#1fa01f" stroke-width="1.3"/><path d="M607.8 394.5v-2.6" stroke="#1fa01f" stroke-width="1.3"/><path d="M642.9 394.5v-2.6" stroke="#1fa01f" stroke-width="1.3"/><path d="M678 394.5v-2.6" stroke="#1fa01f" stroke-width="1.3"/><text x="491.9" y="228.5" text-anchor="end" font-weight="bold" font-size="8.3" fill="#111" font-family="Liberation Sans, sans-serif" stroke="#111" stroke-width="0.22">1.2</text><text x="491.9" y="256.5" text-anchor="end" font-weight="bold" font-size="8.3" fill="#111" font-family="Liberation Sans, sans-serif" stroke="#111" stroke-width="0.22">1.0</text><text x="491.9" y="284.5" text-anchor="end" font-weight="bold" font-size="8.3" fill="#111" font-family="Liberation Sans, sans-serif" stroke="#111" stroke-width="0.22">0.8</text><text x="491.9" y="312.5" text-anchor="end" font-weight="bold" font-size="8.3" fill="#111" font-family="Liberation Sans, sans-serif" stroke="#111" stroke-width="0.22">0.6</text><text x="491.9" y="340.5" text-anchor="end" font-weight="bold" font-size="8.3" fill="#111" font-family="Liberation Sans, sans-serif" stroke="#111" stroke-width="0.22">0.4</text><text x="491.9" y="368.5" text-anchor="end" font-weight="bold" font-size="8.3" fill="#111" font-family="Liberation Sans, sans-serif" stroke="#111" stroke-width="0.22">0.2</text><text x="491.9" y="396.5" text-anchor="end" font-weight="bold" font-size="8.3" fill="#111" font-family="Liberation Sans, sans-serif" stroke="#111" stroke-width="0.22">0.0</text><text x="502.5" y="407.6" text-anchor="middle" font-weight="bold" font-size="8.3" fill="#1fa01f" font-family="Liberation Sans, sans-serif" stroke="#1fa01f" stroke-width="0.22">0</text><text x="537.6" y="407.6" text-anchor="middle" font-weight="bold" font-size="8.3" fill="#1fa01f" font-family="Liberation Sans, sans-serif" stroke="#1fa01f" stroke-width="0.22">5</text><text x="572.7" y="407.6" text-anchor="middle" font-weight="bold" font-size="8.3" fill="#1fa01f" font-family="Liberation Sans, sans-serif" stroke="#1fa01f" stroke-width="0.22">10</text><text x="607.8" y="407.6" text-anchor="middle" font-weight="bold" font-size="8.3" fill="#1fa01f" font-family="Liberation Sans, sans-serif" stroke="#1fa01f" stroke-width="0.22">15</text><text x="642.9" y="407.6" text-anchor="middle" font-weight="bold" font-size="8.3" fill="#1fa01f" font-family="Liberation Sans, sans-serif" stroke="#1fa01f" stroke-width="0.22">20</text><text x="678" y="407.6" text-anchor="middle" font-weight="bold" font-size="8.3" fill="#1fa01f" font-family="Liberation Sans, sans-serif" stroke="#1fa01f" stroke-width="0.22">25</text><text transform="translate(473 316.3) rotate(-90)" text-anchor="middle" font-weight="bold" font-size="10.1" fill="#111" font-family="Liberation Sans, sans-serif" stroke="#111" stroke-width="0.22">normalized flood intensity</text><text x="453.6" y="235.6" font-size="17.5" fill="#111" font-family="Liberation Serif, serif">(f)</text>
<g fill="url(#gm)"><circle cx="558.7" cy="264.3" r="3.35"/><circle cx="546.9" cy="282" r="3.35"/><circle cx="640.6" cy="258.4" r="3.35"/><circle cx="606.2" cy="275.7" r="3.35"/><circle cx="533.1" cy="290.2" r="3.35"/><circle cx="539" cy="292.6" r="3.35"/><circle cx="544.6" cy="293.2" r="3.35"/><circle cx="524.9" cy="296.7" r="3.35"/><circle cx="531.4" cy="299" r="3.35"/><circle cx="528.4" cy="302.5" r="3.35"/><circle cx="543.7" cy="297.9" r="3.35"/><circle cx="544.8" cy="300.8" r="3.35"/><circle cx="550.1" cy="304.5" r="3.35"/><circle cx="559.5" cy="301.4" r="3.35"/><circle cx="520.8" cy="304.9" r="3.35"/><circle cx="526.1" cy="306.6" r="3.35"/><circle cx="523.8" cy="309" r="3.35"/><circle cx="530.8" cy="309.6" r="3.35"/><circle cx="534.9" cy="315.4" r="3.35"/><circle cx="554.2" cy="310.2" r="3.35"/><circle cx="558.9" cy="312.5" r="3.35"/><circle cx="556.6" cy="319.5" r="3.35"/><circle cx="518.5" cy="322.5" r="3.35"/><circle cx="528.9" cy="302.7" r="3.35"/><circle cx="544.4" cy="297.8" r="3.35"/><circle cx="573.9" cy="300.6" r="3.35"/><circle cx="572.5" cy="306.2" r="3.35"/><circle cx="578.8" cy="304.8" r="3.35"/><circle cx="576" cy="307" r="3.35"/><circle cx="578.1" cy="312.6" r="3.35"/><circle cx="578.1" cy="316.8" r="3.35"/><circle cx="588" cy="311.2" r="3.35"/><circle cx="591.5" cy="309.1" r="3.35"/><circle cx="571.8" cy="320" r="3.35"/><circle cx="516.3" cy="327.6" r="3.35"/><circle cx="538" cy="319.6" r="3.35"/><circle cx="588.5" cy="310.7" r="3.35"/><circle cx="593.8" cy="309" r="3.35"/></g>
<g fill="url(#gl)"><circle cx="557.9" cy="291" r="2.65"/><circle cx="530.3" cy="294.2" r="2.65"/><circle cx="537.1" cy="296.8" r="2.65"/><circle cx="538.3" cy="303.4" r="2.65"/><circle cx="604.1" cy="286.2" r="2.65"/><circle cx="618.8" cy="298.7" r="2.65"/><circle cx="621.9" cy="309.3" r="2.65"/><circle cx="656.1" cy="321.3" r="2.65"/><circle cx="536.6" cy="296.7" r="2.65"/><circle cx="538.4" cy="304.3" r="2.65"/><circle cx="536.1" cy="309.6" r="2.65"/><circle cx="546" cy="309" r="2.65"/><circle cx="547.8" cy="312.5" r="2.65"/><circle cx="560.1" cy="310.7" r="2.65"/><circle cx="524.3" cy="313.7" r="2.65"/><circle cx="529" cy="313.1" r="2.65"/><circle cx="541.9" cy="319.5" r="2.65"/><circle cx="560.1" cy="321.3" r="2.65"/><circle cx="537.3" cy="297.1" r="2.65"/><circle cx="538" cy="304.8" r="2.65"/><circle cx="536.6" cy="309.8" r="2.65"/><circle cx="546.5" cy="309.1" r="2.65"/><circle cx="559.8" cy="311.2" r="2.65"/><circle cx="565.5" cy="314.7" r="2.65"/><circle cx="560.5" cy="321" r="2.65"/><circle cx="568.3" cy="324.5" r="2.65"/><circle cx="552.8" cy="325.9" r="2.65"/><circle cx="545.8" cy="328.8" r="2.65"/><circle cx="545.8" cy="333" r="2.65"/><circle cx="558.4" cy="328.8" r="2.65"/><circle cx="559.1" cy="331.6" r="2.65"/><circle cx="582.3" cy="325.2" r="2.65"/><circle cx="585.9" cy="327.3" r="2.65"/><circle cx="592.2" cy="330.2" r="2.65"/><circle cx="593.6" cy="326.6" r="2.65"/><circle cx="576.7" cy="332.3" r="2.65"/><circle cx="580.2" cy="332.3" r="2.65"/><circle cx="587.6" cy="317.2" r="2.65"/><circle cx="589.4" cy="320.7" r="2.65"/><circle cx="604.3" cy="324.2" r="2.65"/><circle cx="610.5" cy="323" r="2.65"/><circle cx="614" cy="326.5" r="2.65"/><circle cx="585.9" cy="326.9" r="2.65"/><circle cx="595.5" cy="326.9" r="2.65"/><circle cx="592.9" cy="330" r="2.65"/><circle cx="596.4" cy="331.8" r="2.65"/><circle cx="586.8" cy="333.9" r="2.65"/><circle cx="585.9" cy="337.4" r="2.65"/><circle cx="593.8" cy="340.6" r="2.65"/><circle cx="590.3" cy="342.3" r="2.65"/><circle cx="603.4" cy="343.6" r="2.65"/><circle cx="607.8" cy="341.8" r="2.65"/><circle cx="607.8" cy="346.5" r="2.65"/><circle cx="602.6" cy="346.2" r="2.65"/><circle cx="599.9" cy="350.6" r="2.65"/><circle cx="592" cy="351.5" r="2.65"/><circle cx="586.8" cy="346.2" r="2.65"/><circle cx="588.5" cy="349.7" r="2.65"/><circle cx="590.3" cy="354.1" r="2.65"/><circle cx="525.6" cy="315" r="2.65"/><circle cx="528.1" cy="313.7" r="2.65"/><circle cx="533.3" cy="316.2" r="2.65"/><circle cx="521.6" cy="319.7" r="2.65"/><circle cx="526.6" cy="317.5" r="2.65"/><circle cx="533.6" cy="319.7" r="2.65"/><circle cx="535.5" cy="320" r="2.65"/><circle cx="540.6" cy="319.1" r="2.65"/><circle cx="526.1" cy="323.8" r="2.65"/><circle cx="531.1" cy="321.5" r="2.65"/><circle cx="533.6" cy="321" r="2.65"/><circle cx="537.1" cy="320.7" r="2.65"/><circle cx="542" cy="322.5" r="2.65"/><circle cx="522.7" cy="325.2" r="2.65"/><circle cx="528.7" cy="325.8" r="2.65"/><circle cx="531.3" cy="325.8" r="2.65"/><circle cx="536.9" cy="324.4" r="2.65"/><circle cx="542.1" cy="324.3" r="2.65"/><circle cx="523.8" cy="330.6" r="2.65"/><circle cx="529.3" cy="329.9" r="2.65"/><circle cx="532.4" cy="328.1" r="2.65"/><circle cx="537.3" cy="331.2" r="2.65"/><circle cx="520.6" cy="338.8" r="2.65"/><circle cx="523.9" cy="339.4" r="2.65"/><circle cx="528.8" cy="340.4" r="2.65"/><circle cx="530.4" cy="338.2" r="2.65"/><circle cx="536.7" cy="338.1" r="2.65"/><circle cx="586.7" cy="340.4" r="2.65"/><circle cx="590.7" cy="338.5" r="2.65"/><circle cx="522.9" cy="343.8" r="2.65"/><circle cx="526.2" cy="343.8" r="2.65"/><circle cx="529.7" cy="343.6" r="2.65"/><circle cx="535.2" cy="342.5" r="2.65"/><circle cx="538.4" cy="343.2" r="2.65"/><circle cx="542.5" cy="341" r="2.65"/><circle cx="547.9" cy="341.6" r="2.65"/><circle cx="551.4" cy="343.4" r="2.65"/><circle cx="558.7" cy="342.8" r="2.65"/><circle cx="568.4" cy="343.9" r="2.65"/><circle cx="572.1" cy="342.1" r="2.65"/><circle cx="578.5" cy="342.8" r="2.65"/><circle cx="580.7" cy="342.4" r="2.65"/><circle cx="585.7" cy="341.2" r="2.65"/><circle cx="589.7" cy="341.8" r="2.65"/><circle cx="595.4" cy="341.8" r="2.65"/><circle cx="519.7" cy="347.8" r="2.65"/><circle cx="524.9" cy="345.7" r="2.65"/><circle cx="528.1" cy="345.6" r="2.65"/><circle cx="531.7" cy="346.1" r="2.65"/><circle cx="537.4" cy="347.7" r="2.65"/><circle cx="539.9" cy="344.5" r="2.65"/><circle cx="544.8" cy="344.6" r="2.65"/><circle cx="547.6" cy="347.1" r="2.65"/><circle cx="552.2" cy="346.9" r="2.65"/><circle cx="557.4" cy="347.7" r="2.65"/><circle cx="563.4" cy="344.7" r="2.65"/><circle cx="565.4" cy="347.7" r="2.65"/><circle cx="571.1" cy="345.9" r="2.65"/><circle cx="576" cy="347.2" r="2.65"/><circle cx="579.3" cy="346.1" r="2.65"/><circle cx="582.3" cy="345.7" r="2.65"/><circle cx="586.7" cy="346.6" r="2.65"/><circle cx="592.6" cy="344.9" r="2.65"/><circle cx="526" cy="350.6" r="2.65"/><circle cx="528.6" cy="351" r="2.65"/><circle cx="532.8" cy="350.3" r="2.65"/><circle cx="539.9" cy="351.3" r="2.65"/><circle cx="544.2" cy="349.7" r="2.65"/><circle cx="547.8" cy="350.9" r="2.65"/><circle cx="550.2" cy="351.4" r="2.65"/><circle cx="557.1" cy="349.7" r="2.65"/><circle cx="561" cy="349.7" r="2.65"/><circle cx="563.5" cy="350.6" r="2.65"/><circle cx="567.1" cy="350.9" r="2.65"/><circle cx="574.5" cy="349.2" r="2.65"/><circle cx="578.7" cy="348.5" r="2.65"/><circle cx="582.7" cy="349.1" r="2.65"/><circle cx="587.4" cy="349.7" r="2.65"/><circle cx="591.6" cy="348.3" r="2.65"/><circle cx="527.3" cy="352.1" r="2.65"/><circle cx="533.7" cy="354.5" r="2.65"/><circle cx="537.9" cy="354.3" r="2.65"/><circle cx="540.1" cy="352.2" r="2.65"/><circle cx="545.7" cy="352.3" r="2.65"/><circle cx="549.4" cy="353.5" r="2.65"/><circle cx="553.5" cy="352.2" r="2.65"/><circle cx="556.4" cy="353.7" r="2.65"/><circle cx="560.5" cy="353.7" r="2.65"/><circle cx="565.2" cy="352.9" r="2.65"/><circle cx="569.5" cy="353.9" r="2.65"/><circle cx="574.7" cy="352.7" r="2.65"/><circle cx="578.4" cy="353.8" r="2.65"/><circle cx="539.6" cy="356.9" r="2.65"/><circle cx="551" cy="355.8" r="2.65"/><circle cx="562.9" cy="356.9" r="2.65"/></g>
<g fill="url(#gn)"><circle cx="534.5" cy="256.5" r="4.0"/><circle cx="523.7" cy="266.5" r="4.0"/><circle cx="543.4" cy="263.6" r="4.0"/><circle cx="587" cy="260.5" r="4.0"/><circle cx="583" cy="271" r="4.0"/><circle cx="579.5" cy="273.5" r="4.0"/><circle cx="522.6" cy="279.7" r="4.0"/></g>
<circle cx="518.7" cy="231.7" r="2.6" fill="url(#gn)"/><text x="522.8" y="234.8" font-size="8.7" fill="#505050" font-family="Liberation Sans, sans-serif">intensity (≥3)</text>
<circle cx="605.5" cy="231.6" r="2.6" fill="url(#gm)"/><text x="609.9" y="234.7" font-size="8.7" fill="#505050" font-family="Liberation Sans, sans-serif">intensity (≥2&lt;3)</text>
<circle cx="518.7" cy="243.3" r="2.6" fill="url(#gl)"/><text x="522.8" y="246.4" font-size="8.7" fill="#505050" font-family="Liberation Sans, sans-serif">intensity (≥1&lt;2)</text>
<path d="M559 355.7C600 352 635 330 649.4 293" stroke="#5cf25c" stroke-width="3.1" stroke-dasharray="8.5 3.2" fill="none"/>
<path d="M651.9 278.1L644.4 292.2L649.6 291.4L654 293.8Z" fill="#5cf25c"/>
<text x="591.6" y="424.6" text-anchor="middle" font-weight="bold" font-size="10.2" fill="#1fa01f" font-family="Liberation Sans, sans-serif" stroke="#1fa01f" stroke-width="0.22">normalized forest cover</text>
</svg></body></html>
